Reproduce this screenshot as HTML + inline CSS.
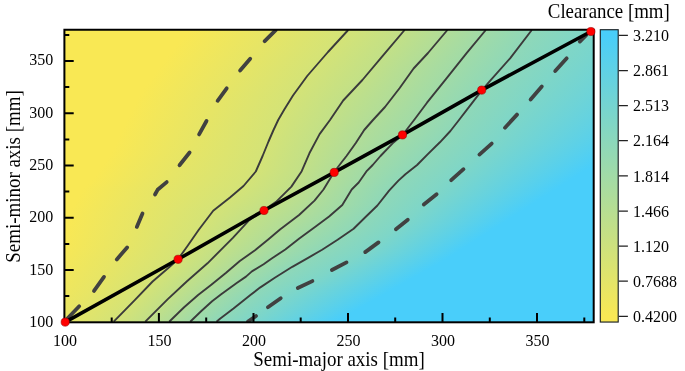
<!DOCTYPE html>
<html><head><meta charset="utf-8"><title>Clearance contour</title>
<style>html,body{margin:0;padding:0;background:#fff}body{width:685px;height:371px;overflow:hidden;font-family:"Liberation Serif",serif}</style></head>
<body>
<svg width="685" height="371" viewBox="0 0 685 371" style="display:block">
<defs><linearGradient id="g0" gradientUnits="userSpaceOnUse" x1="-200" x2="1000" y1="0" y2="0"><stop offset="0.3253" stop-color="#f9e854"/><stop offset="0.3971" stop-color="#e6e566"/><stop offset="0.4576" stop-color="#d4e377"/><stop offset="0.5045" stop-color="#c2e087"/><stop offset="0.5402" stop-color="#b1dd98"/><stop offset="0.5722" stop-color="#a1dba7"/><stop offset="0.6105" stop-color="#8fd8b8"/><stop offset="0.6613" stop-color="#7ed6c8"/><stop offset="0.8396" stop-color="#49cefa"/></linearGradient><linearGradient id="g1" gradientUnits="userSpaceOnUse" x1="-200" x2="1000" y1="0" y2="0"><stop offset="0.3239" stop-color="#f9e854"/><stop offset="0.3954" stop-color="#e6e566"/><stop offset="0.4561" stop-color="#d4e377"/><stop offset="0.5031" stop-color="#c2e087"/><stop offset="0.5388" stop-color="#b1dd98"/><stop offset="0.5708" stop-color="#a1dba7"/><stop offset="0.6092" stop-color="#8fd8b8"/><stop offset="0.6595" stop-color="#7ed6c8"/><stop offset="0.8370" stop-color="#49cefa"/></linearGradient><linearGradient id="g2" gradientUnits="userSpaceOnUse" x1="-200" x2="1000" y1="0" y2="0"><stop offset="0.3224" stop-color="#f9e854"/><stop offset="0.3938" stop-color="#e6e566"/><stop offset="0.4545" stop-color="#d4e377"/><stop offset="0.5017" stop-color="#c2e087"/><stop offset="0.5374" stop-color="#b1dd98"/><stop offset="0.5694" stop-color="#a1dba7"/><stop offset="0.6079" stop-color="#8fd8b8"/><stop offset="0.6576" stop-color="#7ed6c8"/><stop offset="0.8344" stop-color="#49cefa"/></linearGradient><linearGradient id="g3" gradientUnits="userSpaceOnUse" x1="-200" x2="1000" y1="0" y2="0"><stop offset="0.3209" stop-color="#f9e854"/><stop offset="0.3922" stop-color="#e6e566"/><stop offset="0.4530" stop-color="#d4e377"/><stop offset="0.5003" stop-color="#c2e087"/><stop offset="0.5360" stop-color="#b1dd98"/><stop offset="0.5681" stop-color="#a1dba7"/><stop offset="0.6066" stop-color="#8fd8b8"/><stop offset="0.6554" stop-color="#7ed6c8"/><stop offset="0.8318" stop-color="#49cefa"/></linearGradient><linearGradient id="g4" gradientUnits="userSpaceOnUse" x1="-200" x2="1000" y1="0" y2="0"><stop offset="0.3194" stop-color="#f9e854"/><stop offset="0.3906" stop-color="#e6e566"/><stop offset="0.4515" stop-color="#d4e377"/><stop offset="0.4989" stop-color="#c2e087"/><stop offset="0.5346" stop-color="#b1dd98"/><stop offset="0.5667" stop-color="#a1dba7"/><stop offset="0.6054" stop-color="#8fd8b8"/><stop offset="0.6537" stop-color="#7ed6c8"/><stop offset="0.8292" stop-color="#49cefa"/></linearGradient><linearGradient id="g5" gradientUnits="userSpaceOnUse" x1="-200" x2="1000" y1="0" y2="0"><stop offset="0.3179" stop-color="#f9e854"/><stop offset="0.3890" stop-color="#e6e566"/><stop offset="0.4499" stop-color="#d4e377"/><stop offset="0.4975" stop-color="#c2e087"/><stop offset="0.5332" stop-color="#b1dd98"/><stop offset="0.5653" stop-color="#a1dba7"/><stop offset="0.6041" stop-color="#8fd8b8"/><stop offset="0.6520" stop-color="#7ed6c8"/><stop offset="0.8266" stop-color="#49cefa"/></linearGradient><linearGradient id="g6" gradientUnits="userSpaceOnUse" x1="-200" x2="1000" y1="0" y2="0"><stop offset="0.3164" stop-color="#f9e854"/><stop offset="0.3874" stop-color="#e6e566"/><stop offset="0.4484" stop-color="#d4e377"/><stop offset="0.4961" stop-color="#c2e087"/><stop offset="0.5318" stop-color="#b1dd98"/><stop offset="0.5639" stop-color="#a1dba7"/><stop offset="0.6028" stop-color="#8fd8b8"/><stop offset="0.6503" stop-color="#7ed6c8"/><stop offset="0.8239" stop-color="#49cefa"/></linearGradient><linearGradient id="g7" gradientUnits="userSpaceOnUse" x1="-200" x2="1000" y1="0" y2="0"><stop offset="0.3151" stop-color="#f9e854"/><stop offset="0.3860" stop-color="#e6e566"/><stop offset="0.4469" stop-color="#d4e377"/><stop offset="0.4947" stop-color="#c2e087"/><stop offset="0.5304" stop-color="#b1dd98"/><stop offset="0.5625" stop-color="#a1dba7"/><stop offset="0.6015" stop-color="#8fd8b8"/><stop offset="0.6489" stop-color="#7ed6c8"/><stop offset="0.8213" stop-color="#49cefa"/></linearGradient><linearGradient id="g8" gradientUnits="userSpaceOnUse" x1="-200" x2="1000" y1="0" y2="0"><stop offset="0.3138" stop-color="#f9e854"/><stop offset="0.3846" stop-color="#e6e566"/><stop offset="0.4454" stop-color="#d4e377"/><stop offset="0.4933" stop-color="#c2e087"/><stop offset="0.5290" stop-color="#b1dd98"/><stop offset="0.5612" stop-color="#a1dba7"/><stop offset="0.6002" stop-color="#8fd8b8"/><stop offset="0.6476" stop-color="#7ed6c8"/><stop offset="0.8187" stop-color="#49cefa"/></linearGradient><linearGradient id="g9" gradientUnits="userSpaceOnUse" x1="-200" x2="1000" y1="0" y2="0"><stop offset="0.3126" stop-color="#f9e854"/><stop offset="0.3832" stop-color="#e6e566"/><stop offset="0.4438" stop-color="#d4e377"/><stop offset="0.4919" stop-color="#c2e087"/><stop offset="0.5276" stop-color="#b1dd98"/><stop offset="0.5598" stop-color="#a1dba7"/><stop offset="0.5990" stop-color="#8fd8b8"/><stop offset="0.6463" stop-color="#7ed6c8"/><stop offset="0.8161" stop-color="#49cefa"/></linearGradient><linearGradient id="g10" gradientUnits="userSpaceOnUse" x1="-200" x2="1000" y1="0" y2="0"><stop offset="0.3113" stop-color="#f9e854"/><stop offset="0.3819" stop-color="#e6e566"/><stop offset="0.4423" stop-color="#d4e377"/><stop offset="0.4905" stop-color="#c2e087"/><stop offset="0.5261" stop-color="#b1dd98"/><stop offset="0.5584" stop-color="#a1dba7"/><stop offset="0.5977" stop-color="#8fd8b8"/><stop offset="0.6450" stop-color="#7ed6c8"/><stop offset="0.8135" stop-color="#49cefa"/></linearGradient><linearGradient id="g11" gradientUnits="userSpaceOnUse" x1="-200" x2="1000" y1="0" y2="0"><stop offset="0.3100" stop-color="#f9e854"/><stop offset="0.3805" stop-color="#e6e566"/><stop offset="0.4408" stop-color="#d4e377"/><stop offset="0.4891" stop-color="#c2e087"/><stop offset="0.5247" stop-color="#b1dd98"/><stop offset="0.5570" stop-color="#a1dba7"/><stop offset="0.5964" stop-color="#8fd8b8"/><stop offset="0.6437" stop-color="#7ed6c8"/><stop offset="0.8109" stop-color="#49cefa"/></linearGradient><linearGradient id="g12" gradientUnits="userSpaceOnUse" x1="-200" x2="1000" y1="0" y2="0"><stop offset="0.3088" stop-color="#f9e854"/><stop offset="0.3791" stop-color="#e6e566"/><stop offset="0.4393" stop-color="#d4e377"/><stop offset="0.4876" stop-color="#c2e087"/><stop offset="0.5233" stop-color="#b1dd98"/><stop offset="0.5556" stop-color="#a1dba7"/><stop offset="0.5951" stop-color="#8fd8b8"/><stop offset="0.6424" stop-color="#7ed6c8"/><stop offset="0.8082" stop-color="#49cefa"/></linearGradient><linearGradient id="g13" gradientUnits="userSpaceOnUse" x1="-200" x2="1000" y1="0" y2="0"><stop offset="0.3075" stop-color="#f9e854"/><stop offset="0.3777" stop-color="#e6e566"/><stop offset="0.4378" stop-color="#d4e377"/><stop offset="0.4862" stop-color="#c2e087"/><stop offset="0.5218" stop-color="#b1dd98"/><stop offset="0.5543" stop-color="#a1dba7"/><stop offset="0.5939" stop-color="#8fd8b8"/><stop offset="0.6411" stop-color="#7ed6c8"/><stop offset="0.8056" stop-color="#49cefa"/></linearGradient><linearGradient id="g14" gradientUnits="userSpaceOnUse" x1="-200" x2="1000" y1="0" y2="0"><stop offset="0.3062" stop-color="#f9e854"/><stop offset="0.3763" stop-color="#e6e566"/><stop offset="0.4364" stop-color="#d4e377"/><stop offset="0.4848" stop-color="#c2e087"/><stop offset="0.5202" stop-color="#b1dd98"/><stop offset="0.5530" stop-color="#a1dba7"/><stop offset="0.5926" stop-color="#8fd8b8"/><stop offset="0.6398" stop-color="#7ed6c8"/><stop offset="0.8030" stop-color="#49cefa"/></linearGradient><linearGradient id="g15" gradientUnits="userSpaceOnUse" x1="-200" x2="1000" y1="0" y2="0"><stop offset="0.3050" stop-color="#f9e854"/><stop offset="0.3750" stop-color="#e6e566"/><stop offset="0.4349" stop-color="#d4e377"/><stop offset="0.4834" stop-color="#c2e087"/><stop offset="0.5187" stop-color="#b1dd98"/><stop offset="0.5516" stop-color="#a1dba7"/><stop offset="0.5912" stop-color="#8fd8b8"/><stop offset="0.6384" stop-color="#7ed6c8"/><stop offset="0.8004" stop-color="#49cefa"/></linearGradient><linearGradient id="g16" gradientUnits="userSpaceOnUse" x1="-200" x2="1000" y1="0" y2="0"><stop offset="0.3036" stop-color="#f9e854"/><stop offset="0.3735" stop-color="#e6e566"/><stop offset="0.4335" stop-color="#d4e377"/><stop offset="0.4820" stop-color="#c2e087"/><stop offset="0.5171" stop-color="#b1dd98"/><stop offset="0.5503" stop-color="#a1dba7"/><stop offset="0.5897" stop-color="#8fd8b8"/><stop offset="0.6369" stop-color="#7ed6c8"/><stop offset="0.7978" stop-color="#49cefa"/></linearGradient><linearGradient id="g17" gradientUnits="userSpaceOnUse" x1="-200" x2="1000" y1="0" y2="0"><stop offset="0.3023" stop-color="#f9e854"/><stop offset="0.3721" stop-color="#e6e566"/><stop offset="0.4321" stop-color="#d4e377"/><stop offset="0.4806" stop-color="#c2e087"/><stop offset="0.5156" stop-color="#b1dd98"/><stop offset="0.5490" stop-color="#a1dba7"/><stop offset="0.5883" stop-color="#8fd8b8"/><stop offset="0.6354" stop-color="#7ed6c8"/><stop offset="0.7951" stop-color="#49cefa"/></linearGradient><linearGradient id="g18" gradientUnits="userSpaceOnUse" x1="-200" x2="1000" y1="0" y2="0"><stop offset="0.3010" stop-color="#f9e854"/><stop offset="0.3707" stop-color="#e6e566"/><stop offset="0.4306" stop-color="#d4e377"/><stop offset="0.4792" stop-color="#c2e087"/><stop offset="0.5140" stop-color="#b1dd98"/><stop offset="0.5476" stop-color="#a1dba7"/><stop offset="0.5868" stop-color="#8fd8b8"/><stop offset="0.6339" stop-color="#7ed6c8"/><stop offset="0.7925" stop-color="#49cefa"/></linearGradient><linearGradient id="g19" gradientUnits="userSpaceOnUse" x1="-200" x2="1000" y1="0" y2="0"><stop offset="0.2997" stop-color="#f9e854"/><stop offset="0.3692" stop-color="#e6e566"/><stop offset="0.4292" stop-color="#d4e377"/><stop offset="0.4778" stop-color="#c2e087"/><stop offset="0.5125" stop-color="#b1dd98"/><stop offset="0.5463" stop-color="#a1dba7"/><stop offset="0.5853" stop-color="#8fd8b8"/><stop offset="0.6324" stop-color="#7ed6c8"/><stop offset="0.7899" stop-color="#49cefa"/></linearGradient><linearGradient id="g20" gradientUnits="userSpaceOnUse" x1="-200" x2="1000" y1="0" y2="0"><stop offset="0.2984" stop-color="#f9e854"/><stop offset="0.3678" stop-color="#e6e566"/><stop offset="0.4277" stop-color="#d4e377"/><stop offset="0.4764" stop-color="#c2e087"/><stop offset="0.5110" stop-color="#b1dd98"/><stop offset="0.5450" stop-color="#a1dba7"/><stop offset="0.5838" stop-color="#8fd8b8"/><stop offset="0.6309" stop-color="#7ed6c8"/><stop offset="0.7873" stop-color="#49cefa"/></linearGradient><linearGradient id="g21" gradientUnits="userSpaceOnUse" x1="-200" x2="1000" y1="0" y2="0"><stop offset="0.2971" stop-color="#f9e854"/><stop offset="0.3664" stop-color="#e6e566"/><stop offset="0.4263" stop-color="#d4e377"/><stop offset="0.4750" stop-color="#c2e087"/><stop offset="0.5098" stop-color="#b1dd98"/><stop offset="0.5436" stop-color="#a1dba7"/><stop offset="0.5823" stop-color="#8fd8b8"/><stop offset="0.6294" stop-color="#7ed6c8"/><stop offset="0.7847" stop-color="#49cefa"/></linearGradient><linearGradient id="g22" gradientUnits="userSpaceOnUse" x1="-200" x2="1000" y1="0" y2="0"><stop offset="0.2960" stop-color="#f9e854"/><stop offset="0.3652" stop-color="#e6e566"/><stop offset="0.4248" stop-color="#d4e377"/><stop offset="0.4736" stop-color="#c2e087"/><stop offset="0.5087" stop-color="#b1dd98"/><stop offset="0.5423" stop-color="#a1dba7"/><stop offset="0.5808" stop-color="#8fd8b8"/><stop offset="0.6279" stop-color="#7ed6c8"/><stop offset="0.7821" stop-color="#49cefa"/></linearGradient><linearGradient id="g23" gradientUnits="userSpaceOnUse" x1="-200" x2="1000" y1="0" y2="0"><stop offset="0.2948" stop-color="#f9e854"/><stop offset="0.3639" stop-color="#e6e566"/><stop offset="0.4234" stop-color="#d4e377"/><stop offset="0.4722" stop-color="#c2e087"/><stop offset="0.5075" stop-color="#b1dd98"/><stop offset="0.5410" stop-color="#a1dba7"/><stop offset="0.5793" stop-color="#8fd8b8"/><stop offset="0.6265" stop-color="#7ed6c8"/><stop offset="0.7794" stop-color="#49cefa"/></linearGradient><linearGradient id="g24" gradientUnits="userSpaceOnUse" x1="-200" x2="1000" y1="0" y2="0"><stop offset="0.2937" stop-color="#f9e854"/><stop offset="0.3627" stop-color="#e6e566"/><stop offset="0.4221" stop-color="#d4e377"/><stop offset="0.4708" stop-color="#c2e087"/><stop offset="0.5063" stop-color="#b1dd98"/><stop offset="0.5396" stop-color="#a1dba7"/><stop offset="0.5779" stop-color="#8fd8b8"/><stop offset="0.6250" stop-color="#7ed6c8"/><stop offset="0.7768" stop-color="#49cefa"/></linearGradient><linearGradient id="g25" gradientUnits="userSpaceOnUse" x1="-200" x2="1000" y1="0" y2="0"><stop offset="0.2926" stop-color="#f9e854"/><stop offset="0.3614" stop-color="#e6e566"/><stop offset="0.4208" stop-color="#d4e377"/><stop offset="0.4694" stop-color="#c2e087"/><stop offset="0.5051" stop-color="#b1dd98"/><stop offset="0.5383" stop-color="#a1dba7"/><stop offset="0.5764" stop-color="#8fd8b8"/><stop offset="0.6236" stop-color="#7ed6c8"/><stop offset="0.7742" stop-color="#49cefa"/></linearGradient><linearGradient id="g26" gradientUnits="userSpaceOnUse" x1="-200" x2="1000" y1="0" y2="0"><stop offset="0.2914" stop-color="#f9e854"/><stop offset="0.3602" stop-color="#e6e566"/><stop offset="0.4196" stop-color="#d4e377"/><stop offset="0.4679" stop-color="#c2e087"/><stop offset="0.5039" stop-color="#b1dd98"/><stop offset="0.5370" stop-color="#a1dba7"/><stop offset="0.5749" stop-color="#8fd8b8"/><stop offset="0.6221" stop-color="#7ed6c8"/><stop offset="0.7716" stop-color="#49cefa"/></linearGradient><linearGradient id="g27" gradientUnits="userSpaceOnUse" x1="-200" x2="1000" y1="0" y2="0"><stop offset="0.2903" stop-color="#f9e854"/><stop offset="0.3589" stop-color="#e6e566"/><stop offset="0.4184" stop-color="#d4e377"/><stop offset="0.4663" stop-color="#c2e087"/><stop offset="0.5027" stop-color="#b1dd98"/><stop offset="0.5356" stop-color="#a1dba7"/><stop offset="0.5734" stop-color="#8fd8b8"/><stop offset="0.6206" stop-color="#7ed6c8"/><stop offset="0.7690" stop-color="#49cefa"/></linearGradient><linearGradient id="g28" gradientUnits="userSpaceOnUse" x1="-200" x2="1000" y1="0" y2="0"><stop offset="0.2891" stop-color="#f9e854"/><stop offset="0.3577" stop-color="#e6e566"/><stop offset="0.4172" stop-color="#d4e377"/><stop offset="0.4648" stop-color="#c2e087"/><stop offset="0.5015" stop-color="#b1dd98"/><stop offset="0.5343" stop-color="#a1dba7"/><stop offset="0.5720" stop-color="#8fd8b8"/><stop offset="0.6192" stop-color="#7ed6c8"/><stop offset="0.7664" stop-color="#49cefa"/></linearGradient><linearGradient id="g29" gradientUnits="userSpaceOnUse" x1="-200" x2="1000" y1="0" y2="0"><stop offset="0.2880" stop-color="#f9e854"/><stop offset="0.3564" stop-color="#e6e566"/><stop offset="0.4160" stop-color="#d4e377"/><stop offset="0.4632" stop-color="#c2e087"/><stop offset="0.5003" stop-color="#b1dd98"/><stop offset="0.5330" stop-color="#a1dba7"/><stop offset="0.5706" stop-color="#8fd8b8"/><stop offset="0.6177" stop-color="#7ed6c8"/><stop offset="0.7637" stop-color="#49cefa"/></linearGradient><linearGradient id="g30" gradientUnits="userSpaceOnUse" x1="-200" x2="1000" y1="0" y2="0"><stop offset="0.2869" stop-color="#f9e854"/><stop offset="0.3552" stop-color="#e6e566"/><stop offset="0.4148" stop-color="#d4e377"/><stop offset="0.4616" stop-color="#c2e087"/><stop offset="0.4991" stop-color="#b1dd98"/><stop offset="0.5316" stop-color="#a1dba7"/><stop offset="0.5691" stop-color="#8fd8b8"/><stop offset="0.6163" stop-color="#7ed6c8"/><stop offset="0.7611" stop-color="#49cefa"/></linearGradient><linearGradient id="g31" gradientUnits="userSpaceOnUse" x1="-200" x2="1000" y1="0" y2="0"><stop offset="0.2858" stop-color="#f9e854"/><stop offset="0.3539" stop-color="#e6e566"/><stop offset="0.4136" stop-color="#d4e377"/><stop offset="0.4601" stop-color="#c2e087"/><stop offset="0.4978" stop-color="#b1dd98"/><stop offset="0.5303" stop-color="#a1dba7"/><stop offset="0.5677" stop-color="#8fd8b8"/><stop offset="0.6149" stop-color="#7ed6c8"/><stop offset="0.7585" stop-color="#49cefa"/></linearGradient><linearGradient id="g32" gradientUnits="userSpaceOnUse" x1="-200" x2="1000" y1="0" y2="0"><stop offset="0.2847" stop-color="#f9e854"/><stop offset="0.3527" stop-color="#e6e566"/><stop offset="0.4124" stop-color="#d4e377"/><stop offset="0.4585" stop-color="#c2e087"/><stop offset="0.4965" stop-color="#b1dd98"/><stop offset="0.5290" stop-color="#a1dba7"/><stop offset="0.5664" stop-color="#8fd8b8"/><stop offset="0.6135" stop-color="#7ed6c8"/><stop offset="0.7559" stop-color="#49cefa"/></linearGradient><linearGradient id="g33" gradientUnits="userSpaceOnUse" x1="-200" x2="1000" y1="0" y2="0"><stop offset="0.2836" stop-color="#f9e854"/><stop offset="0.3515" stop-color="#e6e566"/><stop offset="0.4111" stop-color="#d4e377"/><stop offset="0.4570" stop-color="#c2e087"/><stop offset="0.4952" stop-color="#b1dd98"/><stop offset="0.5276" stop-color="#a1dba7"/><stop offset="0.5652" stop-color="#8fd8b8"/><stop offset="0.6120" stop-color="#7ed6c8"/><stop offset="0.7533" stop-color="#49cefa"/></linearGradient><linearGradient id="g34" gradientUnits="userSpaceOnUse" x1="-200" x2="1000" y1="0" y2="0"><stop offset="0.2825" stop-color="#f9e854"/><stop offset="0.3503" stop-color="#e6e566"/><stop offset="0.4101" stop-color="#d4e377"/><stop offset="0.4554" stop-color="#c2e087"/><stop offset="0.4939" stop-color="#b1dd98"/><stop offset="0.5263" stop-color="#a1dba7"/><stop offset="0.5639" stop-color="#8fd8b8"/><stop offset="0.6106" stop-color="#7ed6c8"/><stop offset="0.7507" stop-color="#49cefa"/></linearGradient><linearGradient id="g35" gradientUnits="userSpaceOnUse" x1="-200" x2="1000" y1="0" y2="0"><stop offset="0.2814" stop-color="#f9e854"/><stop offset="0.3491" stop-color="#e6e566"/><stop offset="0.4090" stop-color="#d4e377"/><stop offset="0.4538" stop-color="#c2e087"/><stop offset="0.4927" stop-color="#b1dd98"/><stop offset="0.5250" stop-color="#a1dba7"/><stop offset="0.5626" stop-color="#8fd8b8"/><stop offset="0.6092" stop-color="#7ed6c8"/><stop offset="0.7480" stop-color="#49cefa"/></linearGradient><linearGradient id="g36" gradientUnits="userSpaceOnUse" x1="-200" x2="1000" y1="0" y2="0"><stop offset="0.2803" stop-color="#f9e854"/><stop offset="0.3479" stop-color="#e6e566"/><stop offset="0.4080" stop-color="#d4e377"/><stop offset="0.4524" stop-color="#c2e087"/><stop offset="0.4914" stop-color="#b1dd98"/><stop offset="0.5236" stop-color="#a1dba7"/><stop offset="0.5613" stop-color="#8fd8b8"/><stop offset="0.6077" stop-color="#7ed6c8"/><stop offset="0.7454" stop-color="#49cefa"/></linearGradient><linearGradient id="g37" gradientUnits="userSpaceOnUse" x1="-200" x2="1000" y1="0" y2="0"><stop offset="0.2795" stop-color="#f9e854"/><stop offset="0.3470" stop-color="#e6e566"/><stop offset="0.4069" stop-color="#d4e377"/><stop offset="0.4513" stop-color="#c2e087"/><stop offset="0.4901" stop-color="#b1dd98"/><stop offset="0.5223" stop-color="#a1dba7"/><stop offset="0.5601" stop-color="#8fd8b8"/><stop offset="0.6062" stop-color="#7ed6c8"/><stop offset="0.7428" stop-color="#49cefa"/></linearGradient><linearGradient id="g38" gradientUnits="userSpaceOnUse" x1="-200" x2="1000" y1="0" y2="0"><stop offset="0.2787" stop-color="#f9e854"/><stop offset="0.3461" stop-color="#e6e566"/><stop offset="0.4059" stop-color="#d4e377"/><stop offset="0.4501" stop-color="#c2e087"/><stop offset="0.4888" stop-color="#b1dd98"/><stop offset="0.5211" stop-color="#a1dba7"/><stop offset="0.5588" stop-color="#8fd8b8"/><stop offset="0.6047" stop-color="#7ed6c8"/><stop offset="0.7402" stop-color="#49cefa"/></linearGradient><linearGradient id="g39" gradientUnits="userSpaceOnUse" x1="-200" x2="1000" y1="0" y2="0"><stop offset="0.2779" stop-color="#f9e854"/><stop offset="0.3452" stop-color="#e6e566"/><stop offset="0.4049" stop-color="#d4e377"/><stop offset="0.4490" stop-color="#c2e087"/><stop offset="0.4875" stop-color="#b1dd98"/><stop offset="0.5198" stop-color="#a1dba7"/><stop offset="0.5575" stop-color="#8fd8b8"/><stop offset="0.6032" stop-color="#7ed6c8"/><stop offset="0.7376" stop-color="#49cefa"/></linearGradient><linearGradient id="g40" gradientUnits="userSpaceOnUse" x1="-200" x2="1000" y1="0" y2="0"><stop offset="0.2771" stop-color="#f9e854"/><stop offset="0.3442" stop-color="#e6e566"/><stop offset="0.4038" stop-color="#d4e377"/><stop offset="0.4479" stop-color="#c2e087"/><stop offset="0.4860" stop-color="#b1dd98"/><stop offset="0.5186" stop-color="#a1dba7"/><stop offset="0.5562" stop-color="#8fd8b8"/><stop offset="0.6017" stop-color="#7ed6c8"/><stop offset="0.7350" stop-color="#49cefa"/></linearGradient><linearGradient id="g41" gradientUnits="userSpaceOnUse" x1="-200" x2="1000" y1="0" y2="0"><stop offset="0.2763" stop-color="#f9e854"/><stop offset="0.3433" stop-color="#e6e566"/><stop offset="0.4029" stop-color="#d4e377"/><stop offset="0.4467" stop-color="#c2e087"/><stop offset="0.4844" stop-color="#b1dd98"/><stop offset="0.5174" stop-color="#a1dba7"/><stop offset="0.5549" stop-color="#8fd8b8"/><stop offset="0.6002" stop-color="#7ed6c8"/><stop offset="0.7323" stop-color="#49cefa"/></linearGradient><linearGradient id="g42" gradientUnits="userSpaceOnUse" x1="-200" x2="1000" y1="0" y2="0"><stop offset="0.2755" stop-color="#f9e854"/><stop offset="0.3424" stop-color="#e6e566"/><stop offset="0.4019" stop-color="#d4e377"/><stop offset="0.4456" stop-color="#c2e087"/><stop offset="0.4829" stop-color="#b1dd98"/><stop offset="0.5161" stop-color="#a1dba7"/><stop offset="0.5537" stop-color="#8fd8b8"/><stop offset="0.5987" stop-color="#7ed6c8"/><stop offset="0.7297" stop-color="#49cefa"/></linearGradient><linearGradient id="g43" gradientUnits="userSpaceOnUse" x1="-200" x2="1000" y1="0" y2="0"><stop offset="0.2747" stop-color="#f9e854"/><stop offset="0.3415" stop-color="#e6e566"/><stop offset="0.4009" stop-color="#d4e377"/><stop offset="0.4445" stop-color="#c2e087"/><stop offset="0.4813" stop-color="#b1dd98"/><stop offset="0.5149" stop-color="#a1dba7"/><stop offset="0.5524" stop-color="#8fd8b8"/><stop offset="0.5972" stop-color="#7ed6c8"/><stop offset="0.7271" stop-color="#49cefa"/></linearGradient><linearGradient id="g44" gradientUnits="userSpaceOnUse" x1="-200" x2="1000" y1="0" y2="0"><stop offset="0.2739" stop-color="#f9e854"/><stop offset="0.3406" stop-color="#e6e566"/><stop offset="0.4000" stop-color="#d4e377"/><stop offset="0.4434" stop-color="#c2e087"/><stop offset="0.4798" stop-color="#b1dd98"/><stop offset="0.5136" stop-color="#a1dba7"/><stop offset="0.5511" stop-color="#8fd8b8"/><stop offset="0.5957" stop-color="#7ed6c8"/><stop offset="0.7245" stop-color="#49cefa"/></linearGradient><linearGradient id="g45" gradientUnits="userSpaceOnUse" x1="-200" x2="1000" y1="0" y2="0"><stop offset="0.2731" stop-color="#f9e854"/><stop offset="0.3397" stop-color="#e6e566"/><stop offset="0.3990" stop-color="#d4e377"/><stop offset="0.4422" stop-color="#c2e087"/><stop offset="0.4783" stop-color="#b1dd98"/><stop offset="0.5124" stop-color="#a1dba7"/><stop offset="0.5498" stop-color="#8fd8b8"/><stop offset="0.5941" stop-color="#7ed6c8"/><stop offset="0.7219" stop-color="#49cefa"/></linearGradient><linearGradient id="g46" gradientUnits="userSpaceOnUse" x1="-200" x2="1000" y1="0" y2="0"><stop offset="0.2723" stop-color="#f9e854"/><stop offset="0.3387" stop-color="#e6e566"/><stop offset="0.3981" stop-color="#d4e377"/><stop offset="0.4411" stop-color="#c2e087"/><stop offset="0.4768" stop-color="#b1dd98"/><stop offset="0.5111" stop-color="#a1dba7"/><stop offset="0.5485" stop-color="#8fd8b8"/><stop offset="0.5926" stop-color="#7ed6c8"/><stop offset="0.7192" stop-color="#49cefa"/></linearGradient><linearGradient id="g47" gradientUnits="userSpaceOnUse" x1="-200" x2="1000" y1="0" y2="0"><stop offset="0.2715" stop-color="#f9e854"/><stop offset="0.3378" stop-color="#e6e566"/><stop offset="0.3973" stop-color="#d4e377"/><stop offset="0.4398" stop-color="#c2e087"/><stop offset="0.4753" stop-color="#b1dd98"/><stop offset="0.5098" stop-color="#a1dba7"/><stop offset="0.5472" stop-color="#8fd8b8"/><stop offset="0.5911" stop-color="#7ed6c8"/><stop offset="0.7166" stop-color="#49cefa"/></linearGradient><linearGradient id="g48" gradientUnits="userSpaceOnUse" x1="-200" x2="1000" y1="0" y2="0"><stop offset="0.2707" stop-color="#f9e854"/><stop offset="0.3369" stop-color="#e6e566"/><stop offset="0.3965" stop-color="#d4e377"/><stop offset="0.4386" stop-color="#c2e087"/><stop offset="0.4738" stop-color="#b1dd98"/><stop offset="0.5085" stop-color="#a1dba7"/><stop offset="0.5459" stop-color="#8fd8b8"/><stop offset="0.5896" stop-color="#7ed6c8"/><stop offset="0.7140" stop-color="#49cefa"/></linearGradient><linearGradient id="g49" gradientUnits="userSpaceOnUse" x1="-200" x2="1000" y1="0" y2="0"><stop offset="0.2699" stop-color="#f9e854"/><stop offset="0.3360" stop-color="#e6e566"/><stop offset="0.3958" stop-color="#d4e377"/><stop offset="0.4374" stop-color="#c2e087"/><stop offset="0.4724" stop-color="#b1dd98"/><stop offset="0.5072" stop-color="#a1dba7"/><stop offset="0.5446" stop-color="#8fd8b8"/><stop offset="0.5880" stop-color="#7ed6c8"/><stop offset="0.7114" stop-color="#49cefa"/></linearGradient><linearGradient id="g50" gradientUnits="userSpaceOnUse" x1="-200" x2="1000" y1="0" y2="0"><stop offset="0.2691" stop-color="#f9e854"/><stop offset="0.3351" stop-color="#e6e566"/><stop offset="0.3950" stop-color="#d4e377"/><stop offset="0.4361" stop-color="#c2e087"/><stop offset="0.4709" stop-color="#b1dd98"/><stop offset="0.5060" stop-color="#a1dba7"/><stop offset="0.5433" stop-color="#8fd8b8"/><stop offset="0.5866" stop-color="#7ed6c8"/><stop offset="0.7088" stop-color="#49cefa"/></linearGradient><linearGradient id="g51" gradientUnits="userSpaceOnUse" x1="-200" x2="1000" y1="0" y2="0"><stop offset="0.2682" stop-color="#f9e854"/><stop offset="0.3341" stop-color="#e6e566"/><stop offset="0.3942" stop-color="#d4e377"/><stop offset="0.4349" stop-color="#c2e087"/><stop offset="0.4696" stop-color="#b1dd98"/><stop offset="0.5047" stop-color="#a1dba7"/><stop offset="0.5420" stop-color="#8fd8b8"/><stop offset="0.5852" stop-color="#7ed6c8"/><stop offset="0.7062" stop-color="#49cefa"/></linearGradient><linearGradient id="g52" gradientUnits="userSpaceOnUse" x1="-200" x2="1000" y1="0" y2="0"><stop offset="0.2674" stop-color="#f9e854"/><stop offset="0.3332" stop-color="#e6e566"/><stop offset="0.3935" stop-color="#d4e377"/><stop offset="0.4337" stop-color="#c2e087"/><stop offset="0.4686" stop-color="#b1dd98"/><stop offset="0.5034" stop-color="#a1dba7"/><stop offset="0.5405" stop-color="#8fd8b8"/><stop offset="0.5838" stop-color="#7ed6c8"/><stop offset="0.7035" stop-color="#49cefa"/></linearGradient><linearGradient id="g53" gradientUnits="userSpaceOnUse" x1="-200" x2="1000" y1="0" y2="0"><stop offset="0.2667" stop-color="#f9e854"/><stop offset="0.3323" stop-color="#e6e566"/><stop offset="0.3928" stop-color="#d4e377"/><stop offset="0.4326" stop-color="#c2e087"/><stop offset="0.4675" stop-color="#b1dd98"/><stop offset="0.5021" stop-color="#a1dba7"/><stop offset="0.5389" stop-color="#8fd8b8"/><stop offset="0.5824" stop-color="#7ed6c8"/><stop offset="0.7009" stop-color="#49cefa"/></linearGradient><linearGradient id="g54" gradientUnits="userSpaceOnUse" x1="-200" x2="1000" y1="0" y2="0"><stop offset="0.2659" stop-color="#f9e854"/><stop offset="0.3314" stop-color="#e6e566"/><stop offset="0.3920" stop-color="#d4e377"/><stop offset="0.4317" stop-color="#c2e087"/><stop offset="0.4664" stop-color="#b1dd98"/><stop offset="0.5001" stop-color="#a1dba7"/><stop offset="0.5374" stop-color="#8fd8b8"/><stop offset="0.5810" stop-color="#7ed6c8"/><stop offset="0.6983" stop-color="#49cefa"/></linearGradient><linearGradient id="g55" gradientUnits="userSpaceOnUse" x1="-200" x2="1000" y1="0" y2="0"><stop offset="0.2651" stop-color="#f9e854"/><stop offset="0.3306" stop-color="#e6e566"/><stop offset="0.3913" stop-color="#d4e377"/><stop offset="0.4308" stop-color="#c2e087"/><stop offset="0.4653" stop-color="#b1dd98"/><stop offset="0.4981" stop-color="#a1dba7"/><stop offset="0.5358" stop-color="#8fd8b8"/><stop offset="0.5796" stop-color="#7ed6c8"/><stop offset="0.6957" stop-color="#49cefa"/></linearGradient><linearGradient id="g56" gradientUnits="userSpaceOnUse" x1="-200" x2="1000" y1="0" y2="0"><stop offset="0.2644" stop-color="#f9e854"/><stop offset="0.3297" stop-color="#e6e566"/><stop offset="0.3906" stop-color="#d4e377"/><stop offset="0.4299" stop-color="#c2e087"/><stop offset="0.4642" stop-color="#b1dd98"/><stop offset="0.4961" stop-color="#a1dba7"/><stop offset="0.5343" stop-color="#8fd8b8"/><stop offset="0.5782" stop-color="#7ed6c8"/><stop offset="0.6931" stop-color="#49cefa"/></linearGradient><linearGradient id="g57" gradientUnits="userSpaceOnUse" x1="-200" x2="1000" y1="0" y2="0"><stop offset="0.2636" stop-color="#f9e854"/><stop offset="0.3288" stop-color="#e6e566"/><stop offset="0.3899" stop-color="#d4e377"/><stop offset="0.4291" stop-color="#c2e087"/><stop offset="0.4632" stop-color="#b1dd98"/><stop offset="0.4941" stop-color="#a1dba7"/><stop offset="0.5327" stop-color="#8fd8b8"/><stop offset="0.5768" stop-color="#7ed6c8"/><stop offset="0.6905" stop-color="#49cefa"/></linearGradient><linearGradient id="g58" gradientUnits="userSpaceOnUse" x1="-200" x2="1000" y1="0" y2="0"><stop offset="0.2628" stop-color="#f9e854"/><stop offset="0.3279" stop-color="#e6e566"/><stop offset="0.3892" stop-color="#d4e377"/><stop offset="0.4282" stop-color="#c2e087"/><stop offset="0.4620" stop-color="#b1dd98"/><stop offset="0.4925" stop-color="#a1dba7"/><stop offset="0.5309" stop-color="#8fd8b8"/><stop offset="0.5751" stop-color="#7ed6c8"/><stop offset="0.6878" stop-color="#49cefa"/></linearGradient><linearGradient id="g59" gradientUnits="userSpaceOnUse" x1="-200" x2="1000" y1="0" y2="0"><stop offset="0.2621" stop-color="#f9e854"/><stop offset="0.3271" stop-color="#e6e566"/><stop offset="0.3886" stop-color="#d4e377"/><stop offset="0.4273" stop-color="#c2e087"/><stop offset="0.4608" stop-color="#b1dd98"/><stop offset="0.4909" stop-color="#a1dba7"/><stop offset="0.5292" stop-color="#8fd8b8"/><stop offset="0.5732" stop-color="#7ed6c8"/><stop offset="0.6852" stop-color="#49cefa"/></linearGradient><linearGradient id="g60" gradientUnits="userSpaceOnUse" x1="-200" x2="1000" y1="0" y2="0"><stop offset="0.2613" stop-color="#f9e854"/><stop offset="0.3262" stop-color="#e6e566"/><stop offset="0.3879" stop-color="#d4e377"/><stop offset="0.4264" stop-color="#c2e087"/><stop offset="0.4596" stop-color="#b1dd98"/><stop offset="0.4893" stop-color="#a1dba7"/><stop offset="0.5275" stop-color="#8fd8b8"/><stop offset="0.5714" stop-color="#7ed6c8"/><stop offset="0.6826" stop-color="#49cefa"/></linearGradient><linearGradient id="g61" gradientUnits="userSpaceOnUse" x1="-200" x2="1000" y1="0" y2="0"><stop offset="0.2606" stop-color="#f9e854"/><stop offset="0.3253" stop-color="#e6e566"/><stop offset="0.3872" stop-color="#d4e377"/><stop offset="0.4255" stop-color="#c2e087"/><stop offset="0.4584" stop-color="#b1dd98"/><stop offset="0.4877" stop-color="#a1dba7"/><stop offset="0.5258" stop-color="#8fd8b8"/><stop offset="0.5695" stop-color="#7ed6c8"/><stop offset="0.6800" stop-color="#49cefa"/></linearGradient><linearGradient id="g62" gradientUnits="userSpaceOnUse" x1="-200" x2="1000" y1="0" y2="0"><stop offset="0.2597" stop-color="#f9e854"/><stop offset="0.3243" stop-color="#e6e566"/><stop offset="0.3865" stop-color="#d4e377"/><stop offset="0.4246" stop-color="#c2e087"/><stop offset="0.4572" stop-color="#b1dd98"/><stop offset="0.4861" stop-color="#a1dba7"/><stop offset="0.5241" stop-color="#8fd8b8"/><stop offset="0.5677" stop-color="#7ed6c8"/><stop offset="0.6774" stop-color="#49cefa"/></linearGradient><linearGradient id="g63" gradientUnits="userSpaceOnUse" x1="-200" x2="1000" y1="0" y2="0"><stop offset="0.2585" stop-color="#f9e854"/><stop offset="0.3230" stop-color="#e6e566"/><stop offset="0.3858" stop-color="#d4e377"/><stop offset="0.4239" stop-color="#c2e087"/><stop offset="0.4560" stop-color="#b1dd98"/><stop offset="0.4845" stop-color="#a1dba7"/><stop offset="0.5224" stop-color="#8fd8b8"/><stop offset="0.5658" stop-color="#7ed6c8"/><stop offset="0.6748" stop-color="#49cefa"/></linearGradient><linearGradient id="g64" gradientUnits="userSpaceOnUse" x1="-200" x2="1000" y1="0" y2="0"><stop offset="0.2573" stop-color="#f9e854"/><stop offset="0.3217" stop-color="#e6e566"/><stop offset="0.3851" stop-color="#d4e377"/><stop offset="0.4232" stop-color="#c2e087"/><stop offset="0.4548" stop-color="#b1dd98"/><stop offset="0.4830" stop-color="#a1dba7"/><stop offset="0.5208" stop-color="#8fd8b8"/><stop offset="0.5640" stop-color="#7ed6c8"/><stop offset="0.6721" stop-color="#49cefa"/></linearGradient><linearGradient id="g65" gradientUnits="userSpaceOnUse" x1="-200" x2="1000" y1="0" y2="0"><stop offset="0.2561" stop-color="#f9e854"/><stop offset="0.3204" stop-color="#e6e566"/><stop offset="0.3844" stop-color="#d4e377"/><stop offset="0.4225" stop-color="#c2e087"/><stop offset="0.4535" stop-color="#b1dd98"/><stop offset="0.4816" stop-color="#a1dba7"/><stop offset="0.5192" stop-color="#8fd8b8"/><stop offset="0.5622" stop-color="#7ed6c8"/><stop offset="0.6695" stop-color="#49cefa"/></linearGradient><linearGradient id="g66" gradientUnits="userSpaceOnUse" x1="-200" x2="1000" y1="0" y2="0"><stop offset="0.2549" stop-color="#f9e854"/><stop offset="0.3191" stop-color="#e6e566"/><stop offset="0.3837" stop-color="#d4e377"/><stop offset="0.4217" stop-color="#c2e087"/><stop offset="0.4522" stop-color="#b1dd98"/><stop offset="0.4801" stop-color="#a1dba7"/><stop offset="0.5175" stop-color="#8fd8b8"/><stop offset="0.5604" stop-color="#7ed6c8"/><stop offset="0.6669" stop-color="#49cefa"/></linearGradient><linearGradient id="g67" gradientUnits="userSpaceOnUse" x1="-200" x2="1000" y1="0" y2="0"><stop offset="0.2537" stop-color="#f9e854"/><stop offset="0.3178" stop-color="#e6e566"/><stop offset="0.3829" stop-color="#d4e377"/><stop offset="0.4210" stop-color="#c2e087"/><stop offset="0.4509" stop-color="#b1dd98"/><stop offset="0.4787" stop-color="#a1dba7"/><stop offset="0.5159" stop-color="#8fd8b8"/><stop offset="0.5585" stop-color="#7ed6c8"/><stop offset="0.6643" stop-color="#49cefa"/></linearGradient><linearGradient id="g68" gradientUnits="userSpaceOnUse" x1="-200" x2="1000" y1="0" y2="0"><stop offset="0.2525" stop-color="#f9e854"/><stop offset="0.3164" stop-color="#e6e566"/><stop offset="0.3822" stop-color="#d4e377"/><stop offset="0.4203" stop-color="#c2e087"/><stop offset="0.4496" stop-color="#b1dd98"/><stop offset="0.4773" stop-color="#a1dba7"/><stop offset="0.5142" stop-color="#8fd8b8"/><stop offset="0.5567" stop-color="#7ed6c8"/><stop offset="0.6617" stop-color="#49cefa"/></linearGradient><linearGradient id="g69" gradientUnits="userSpaceOnUse" x1="-200" x2="1000" y1="0" y2="0"><stop offset="0.2513" stop-color="#f9e854"/><stop offset="0.3152" stop-color="#e6e566"/><stop offset="0.3815" stop-color="#d4e377"/><stop offset="0.4196" stop-color="#c2e087"/><stop offset="0.4483" stop-color="#b1dd98"/><stop offset="0.4756" stop-color="#a1dba7"/><stop offset="0.5122" stop-color="#8fd8b8"/><stop offset="0.5549" stop-color="#7ed6c8"/><stop offset="0.6591" stop-color="#49cefa"/></linearGradient><linearGradient id="g70" gradientUnits="userSpaceOnUse" x1="-200" x2="1000" y1="0" y2="0"><stop offset="0.2502" stop-color="#f9e854"/><stop offset="0.3139" stop-color="#e6e566"/><stop offset="0.3807" stop-color="#d4e377"/><stop offset="0.4189" stop-color="#c2e087"/><stop offset="0.4471" stop-color="#b1dd98"/><stop offset="0.4739" stop-color="#a1dba7"/><stop offset="0.5101" stop-color="#8fd8b8"/><stop offset="0.5531" stop-color="#7ed6c8"/><stop offset="0.6564" stop-color="#49cefa"/></linearGradient><linearGradient id="g71" gradientUnits="userSpaceOnUse" x1="-200" x2="1000" y1="0" y2="0"><stop offset="0.2490" stop-color="#f9e854"/><stop offset="0.3126" stop-color="#e6e566"/><stop offset="0.3800" stop-color="#d4e377"/><stop offset="0.4182" stop-color="#c2e087"/><stop offset="0.4458" stop-color="#b1dd98"/><stop offset="0.4723" stop-color="#a1dba7"/><stop offset="0.5080" stop-color="#8fd8b8"/><stop offset="0.5512" stop-color="#7ed6c8"/><stop offset="0.6538" stop-color="#49cefa"/></linearGradient><linearGradient id="g72" gradientUnits="userSpaceOnUse" x1="-200" x2="1000" y1="0" y2="0"><stop offset="0.2479" stop-color="#f9e854"/><stop offset="0.3114" stop-color="#e6e566"/><stop offset="0.3788" stop-color="#d4e377"/><stop offset="0.4171" stop-color="#c2e087"/><stop offset="0.4446" stop-color="#b1dd98"/><stop offset="0.4711" stop-color="#a1dba7"/><stop offset="0.5059" stop-color="#8fd8b8"/><stop offset="0.5494" stop-color="#7ed6c8"/><stop offset="0.6512" stop-color="#49cefa"/></linearGradient><linearGradient id="g73" gradientUnits="userSpaceOnUse" x1="-200" x2="1000" y1="0" y2="0"><stop offset="0.2467" stop-color="#f9e854"/><stop offset="0.3101" stop-color="#e6e566"/><stop offset="0.3774" stop-color="#d4e377"/><stop offset="0.4160" stop-color="#c2e087"/><stop offset="0.4436" stop-color="#b1dd98"/><stop offset="0.4700" stop-color="#a1dba7"/><stop offset="0.5039" stop-color="#8fd8b8"/><stop offset="0.5475" stop-color="#7ed6c8"/><stop offset="0.6486" stop-color="#49cefa"/></linearGradient><linearGradient id="g74" gradientUnits="userSpaceOnUse" x1="-200" x2="1000" y1="0" y2="0"><stop offset="0.2455" stop-color="#f9e854"/><stop offset="0.3088" stop-color="#e6e566"/><stop offset="0.3759" stop-color="#d4e377"/><stop offset="0.4149" stop-color="#c2e087"/><stop offset="0.4426" stop-color="#b1dd98"/><stop offset="0.4688" stop-color="#a1dba7"/><stop offset="0.5020" stop-color="#8fd8b8"/><stop offset="0.5456" stop-color="#7ed6c8"/><stop offset="0.6460" stop-color="#49cefa"/></linearGradient><linearGradient id="g75" gradientUnits="userSpaceOnUse" x1="-200" x2="1000" y1="0" y2="0"><stop offset="0.2444" stop-color="#f9e854"/><stop offset="0.3076" stop-color="#e6e566"/><stop offset="0.3745" stop-color="#d4e377"/><stop offset="0.4137" stop-color="#c2e087"/><stop offset="0.4416" stop-color="#b1dd98"/><stop offset="0.4676" stop-color="#a1dba7"/><stop offset="0.5001" stop-color="#8fd8b8"/><stop offset="0.5438" stop-color="#7ed6c8"/><stop offset="0.6434" stop-color="#49cefa"/></linearGradient><linearGradient id="g76" gradientUnits="userSpaceOnUse" x1="-200" x2="1000" y1="0" y2="0"><stop offset="0.2432" stop-color="#f9e854"/><stop offset="0.3063" stop-color="#e6e566"/><stop offset="0.3731" stop-color="#d4e377"/><stop offset="0.4126" stop-color="#c2e087"/><stop offset="0.4406" stop-color="#b1dd98"/><stop offset="0.4665" stop-color="#a1dba7"/><stop offset="0.4984" stop-color="#8fd8b8"/><stop offset="0.5420" stop-color="#7ed6c8"/><stop offset="0.6408" stop-color="#49cefa"/></linearGradient><linearGradient id="g77" gradientUnits="userSpaceOnUse" x1="-200" x2="1000" y1="0" y2="0"><stop offset="0.2418" stop-color="#f9e854"/><stop offset="0.3047" stop-color="#e6e566"/><stop offset="0.3717" stop-color="#d4e377"/><stop offset="0.4115" stop-color="#c2e087"/><stop offset="0.4396" stop-color="#b1dd98"/><stop offset="0.4652" stop-color="#a1dba7"/><stop offset="0.4968" stop-color="#8fd8b8"/><stop offset="0.5402" stop-color="#7ed6c8"/><stop offset="0.6381" stop-color="#49cefa"/></linearGradient><linearGradient id="g78" gradientUnits="userSpaceOnUse" x1="-200" x2="1000" y1="0" y2="0"><stop offset="0.2399" stop-color="#f9e854"/><stop offset="0.3027" stop-color="#e6e566"/><stop offset="0.3703" stop-color="#d4e377"/><stop offset="0.4104" stop-color="#c2e087"/><stop offset="0.4385" stop-color="#b1dd98"/><stop offset="0.4635" stop-color="#a1dba7"/><stop offset="0.4953" stop-color="#8fd8b8"/><stop offset="0.5385" stop-color="#7ed6c8"/><stop offset="0.6355" stop-color="#49cefa"/></linearGradient><linearGradient id="g79" gradientUnits="userSpaceOnUse" x1="-200" x2="1000" y1="0" y2="0"><stop offset="0.2380" stop-color="#f9e854"/><stop offset="0.3008" stop-color="#e6e566"/><stop offset="0.3686" stop-color="#d4e377"/><stop offset="0.4092" stop-color="#c2e087"/><stop offset="0.4375" stop-color="#b1dd98"/><stop offset="0.4618" stop-color="#a1dba7"/><stop offset="0.4938" stop-color="#8fd8b8"/><stop offset="0.5368" stop-color="#7ed6c8"/><stop offset="0.6329" stop-color="#49cefa"/></linearGradient><linearGradient id="g80" gradientUnits="userSpaceOnUse" x1="-200" x2="1000" y1="0" y2="0"><stop offset="0.2362" stop-color="#f9e854"/><stop offset="0.2988" stop-color="#e6e566"/><stop offset="0.3666" stop-color="#d4e377"/><stop offset="0.4075" stop-color="#c2e087"/><stop offset="0.4365" stop-color="#b1dd98"/><stop offset="0.4602" stop-color="#a1dba7"/><stop offset="0.4922" stop-color="#8fd8b8"/><stop offset="0.5350" stop-color="#7ed6c8"/><stop offset="0.6303" stop-color="#49cefa"/></linearGradient><linearGradient id="g81" gradientUnits="userSpaceOnUse" x1="-200" x2="1000" y1="0" y2="0"><stop offset="0.2350" stop-color="#f9e854"/><stop offset="0.2974" stop-color="#e6e566"/><stop offset="0.3647" stop-color="#d4e377"/><stop offset="0.4058" stop-color="#c2e087"/><stop offset="0.4352" stop-color="#b1dd98"/><stop offset="0.4590" stop-color="#a1dba7"/><stop offset="0.4907" stop-color="#8fd8b8"/><stop offset="0.5333" stop-color="#7ed6c8"/><stop offset="0.6277" stop-color="#49cefa"/></linearGradient><linearGradient id="g82" gradientUnits="userSpaceOnUse" x1="-200" x2="1000" y1="0" y2="0"><stop offset="0.2342" stop-color="#f9e854"/><stop offset="0.2965" stop-color="#e6e566"/><stop offset="0.3627" stop-color="#d4e377"/><stop offset="0.4042" stop-color="#c2e087"/><stop offset="0.4339" stop-color="#b1dd98"/><stop offset="0.4580" stop-color="#a1dba7"/><stop offset="0.4894" stop-color="#8fd8b8"/><stop offset="0.5315" stop-color="#7ed6c8"/><stop offset="0.6251" stop-color="#49cefa"/></linearGradient><linearGradient id="g83" gradientUnits="userSpaceOnUse" x1="-200" x2="1000" y1="0" y2="0"><stop offset="0.2333" stop-color="#f9e854"/><stop offset="0.2956" stop-color="#e6e566"/><stop offset="0.3608" stop-color="#d4e377"/><stop offset="0.4025" stop-color="#c2e087"/><stop offset="0.4325" stop-color="#b1dd98"/><stop offset="0.4570" stop-color="#a1dba7"/><stop offset="0.4881" stop-color="#8fd8b8"/><stop offset="0.5297" stop-color="#7ed6c8"/><stop offset="0.6225" stop-color="#49cefa"/></linearGradient><linearGradient id="g84" gradientUnits="userSpaceOnUse" x1="-200" x2="1000" y1="0" y2="0"><stop offset="0.2323" stop-color="#f9e854"/><stop offset="0.2945" stop-color="#e6e566"/><stop offset="0.3588" stop-color="#d4e377"/><stop offset="0.4008" stop-color="#c2e087"/><stop offset="0.4312" stop-color="#b1dd98"/><stop offset="0.4560" stop-color="#a1dba7"/><stop offset="0.4868" stop-color="#8fd8b8"/><stop offset="0.5276" stop-color="#7ed6c8"/><stop offset="0.6198" stop-color="#49cefa"/></linearGradient><linearGradient id="g85" gradientUnits="userSpaceOnUse" x1="-200" x2="1000" y1="0" y2="0"><stop offset="0.2313" stop-color="#f9e854"/><stop offset="0.2934" stop-color="#e6e566"/><stop offset="0.3567" stop-color="#d4e377"/><stop offset="0.3992" stop-color="#c2e087"/><stop offset="0.4298" stop-color="#b1dd98"/><stop offset="0.4549" stop-color="#a1dba7"/><stop offset="0.4854" stop-color="#8fd8b8"/><stop offset="0.5255" stop-color="#7ed6c8"/><stop offset="0.6172" stop-color="#49cefa"/></linearGradient><linearGradient id="g86" gradientUnits="userSpaceOnUse" x1="-200" x2="1000" y1="0" y2="0"><stop offset="0.2303" stop-color="#f9e854"/><stop offset="0.2923" stop-color="#e6e566"/><stop offset="0.3546" stop-color="#d4e377"/><stop offset="0.3975" stop-color="#c2e087"/><stop offset="0.4284" stop-color="#b1dd98"/><stop offset="0.4539" stop-color="#a1dba7"/><stop offset="0.4841" stop-color="#8fd8b8"/><stop offset="0.5235" stop-color="#7ed6c8"/><stop offset="0.6146" stop-color="#49cefa"/></linearGradient><linearGradient id="g87" gradientUnits="userSpaceOnUse" x1="-200" x2="1000" y1="0" y2="0"><stop offset="0.2294" stop-color="#f9e854"/><stop offset="0.2911" stop-color="#e6e566"/><stop offset="0.3525" stop-color="#d4e377"/><stop offset="0.3954" stop-color="#c2e087"/><stop offset="0.4266" stop-color="#b1dd98"/><stop offset="0.4529" stop-color="#a1dba7"/><stop offset="0.4828" stop-color="#8fd8b8"/><stop offset="0.5214" stop-color="#7ed6c8"/><stop offset="0.6120" stop-color="#49cefa"/></linearGradient><linearGradient id="g88" gradientUnits="userSpaceOnUse" x1="-200" x2="1000" y1="0" y2="0"><stop offset="0.2284" stop-color="#f9e854"/><stop offset="0.2900" stop-color="#e6e566"/><stop offset="0.3504" stop-color="#d4e377"/><stop offset="0.3930" stop-color="#c2e087"/><stop offset="0.4248" stop-color="#b1dd98"/><stop offset="0.4519" stop-color="#a1dba7"/><stop offset="0.4815" stop-color="#8fd8b8"/><stop offset="0.5194" stop-color="#7ed6c8"/><stop offset="0.6094" stop-color="#49cefa"/></linearGradient><linearGradient id="g89" gradientUnits="userSpaceOnUse" x1="-200" x2="1000" y1="0" y2="0"><stop offset="0.2274" stop-color="#f9e854"/><stop offset="0.2889" stop-color="#e6e566"/><stop offset="0.3483" stop-color="#d4e377"/><stop offset="0.3906" stop-color="#c2e087"/><stop offset="0.4230" stop-color="#b1dd98"/><stop offset="0.4500" stop-color="#a1dba7"/><stop offset="0.4799" stop-color="#8fd8b8"/><stop offset="0.5177" stop-color="#7ed6c8"/><stop offset="0.6068" stop-color="#49cefa"/></linearGradient><linearGradient id="g90" gradientUnits="userSpaceOnUse" x1="-200" x2="1000" y1="0" y2="0"><stop offset="0.2264" stop-color="#f9e854"/><stop offset="0.2878" stop-color="#e6e566"/><stop offset="0.3461" stop-color="#d4e377"/><stop offset="0.3882" stop-color="#c2e087"/><stop offset="0.4213" stop-color="#b1dd98"/><stop offset="0.4481" stop-color="#a1dba7"/><stop offset="0.4782" stop-color="#8fd8b8"/><stop offset="0.5159" stop-color="#7ed6c8"/><stop offset="0.6042" stop-color="#49cefa"/></linearGradient><linearGradient id="g91" gradientUnits="userSpaceOnUse" x1="-200" x2="1000" y1="0" y2="0"><stop offset="0.2254" stop-color="#f9e854"/><stop offset="0.2867" stop-color="#e6e566"/><stop offset="0.3441" stop-color="#d4e377"/><stop offset="0.3857" stop-color="#c2e087"/><stop offset="0.4195" stop-color="#b1dd98"/><stop offset="0.4462" stop-color="#a1dba7"/><stop offset="0.4765" stop-color="#8fd8b8"/><stop offset="0.5142" stop-color="#7ed6c8"/><stop offset="0.6015" stop-color="#49cefa"/></linearGradient><linearGradient id="g92" gradientUnits="userSpaceOnUse" x1="-200" x2="1000" y1="0" y2="0"><stop offset="0.2244" stop-color="#f9e854"/><stop offset="0.2856" stop-color="#e6e566"/><stop offset="0.3429" stop-color="#d4e377"/><stop offset="0.3832" stop-color="#c2e087"/><stop offset="0.4177" stop-color="#b1dd98"/><stop offset="0.4443" stop-color="#a1dba7"/><stop offset="0.4748" stop-color="#8fd8b8"/><stop offset="0.5124" stop-color="#7ed6c8"/><stop offset="0.5989" stop-color="#49cefa"/></linearGradient><linearGradient id="g93" gradientUnits="userSpaceOnUse" x1="-200" x2="1000" y1="0" y2="0"><stop offset="0.2237" stop-color="#f9e854"/><stop offset="0.2849" stop-color="#e6e566"/><stop offset="0.3416" stop-color="#d4e377"/><stop offset="0.3807" stop-color="#c2e087"/><stop offset="0.4159" stop-color="#b1dd98"/><stop offset="0.4424" stop-color="#a1dba7"/><stop offset="0.4730" stop-color="#8fd8b8"/><stop offset="0.5107" stop-color="#7ed6c8"/><stop offset="0.5963" stop-color="#49cefa"/></linearGradient><linearGradient id="g94" gradientUnits="userSpaceOnUse" x1="-200" x2="1000" y1="0" y2="0"><stop offset="0.2232" stop-color="#f9e854"/><stop offset="0.2842" stop-color="#e6e566"/><stop offset="0.3404" stop-color="#d4e377"/><stop offset="0.3782" stop-color="#c2e087"/><stop offset="0.4137" stop-color="#b1dd98"/><stop offset="0.4404" stop-color="#a1dba7"/><stop offset="0.4713" stop-color="#8fd8b8"/><stop offset="0.5089" stop-color="#7ed6c8"/><stop offset="0.5937" stop-color="#49cefa"/></linearGradient><linearGradient id="g95" gradientUnits="userSpaceOnUse" x1="-200" x2="1000" y1="0" y2="0"><stop offset="0.2226" stop-color="#f9e854"/><stop offset="0.2834" stop-color="#e6e566"/><stop offset="0.3391" stop-color="#d4e377"/><stop offset="0.3757" stop-color="#c2e087"/><stop offset="0.4116" stop-color="#b1dd98"/><stop offset="0.4381" stop-color="#a1dba7"/><stop offset="0.4696" stop-color="#8fd8b8"/><stop offset="0.5072" stop-color="#7ed6c8"/><stop offset="0.5911" stop-color="#49cefa"/></linearGradient><linearGradient id="g96" gradientUnits="userSpaceOnUse" x1="-200" x2="1000" y1="0" y2="0"><stop offset="0.2220" stop-color="#f9e854"/><stop offset="0.2827" stop-color="#e6e566"/><stop offset="0.3378" stop-color="#d4e377"/><stop offset="0.3736" stop-color="#c2e087"/><stop offset="0.4094" stop-color="#b1dd98"/><stop offset="0.4359" stop-color="#a1dba7"/><stop offset="0.4679" stop-color="#8fd8b8"/><stop offset="0.5052" stop-color="#7ed6c8"/><stop offset="0.5885" stop-color="#49cefa"/></linearGradient><linearGradient id="g97" gradientUnits="userSpaceOnUse" x1="-200" x2="1000" y1="0" y2="0"><stop offset="0.2214" stop-color="#f9e854"/><stop offset="0.2820" stop-color="#e6e566"/><stop offset="0.3366" stop-color="#d4e377"/><stop offset="0.3721" stop-color="#c2e087"/><stop offset="0.4072" stop-color="#b1dd98"/><stop offset="0.4336" stop-color="#a1dba7"/><stop offset="0.4662" stop-color="#8fd8b8"/><stop offset="0.5032" stop-color="#7ed6c8"/><stop offset="0.5859" stop-color="#49cefa"/></linearGradient><linearGradient id="g98" gradientUnits="userSpaceOnUse" x1="-200" x2="1000" y1="0" y2="0"><stop offset="0.2208" stop-color="#f9e854"/><stop offset="0.2813" stop-color="#e6e566"/><stop offset="0.3353" stop-color="#d4e377"/><stop offset="0.3706" stop-color="#c2e087"/><stop offset="0.4050" stop-color="#b1dd98"/><stop offset="0.4314" stop-color="#a1dba7"/><stop offset="0.4646" stop-color="#8fd8b8"/><stop offset="0.5011" stop-color="#7ed6c8"/><stop offset="0.5832" stop-color="#49cefa"/></linearGradient><linearGradient id="g99" gradientUnits="userSpaceOnUse" x1="-200" x2="1000" y1="0" y2="0"><stop offset="0.2202" stop-color="#f9e854"/><stop offset="0.2806" stop-color="#e6e566"/><stop offset="0.3341" stop-color="#d4e377"/><stop offset="0.3691" stop-color="#c2e087"/><stop offset="0.4028" stop-color="#b1dd98"/><stop offset="0.4292" stop-color="#a1dba7"/><stop offset="0.4629" stop-color="#8fd8b8"/><stop offset="0.4990" stop-color="#7ed6c8"/><stop offset="0.5806" stop-color="#49cefa"/></linearGradient><linearGradient id="g100" gradientUnits="userSpaceOnUse" x1="-200" x2="1000" y1="0" y2="0"><stop offset="0.2195" stop-color="#f9e854"/><stop offset="0.2798" stop-color="#e6e566"/><stop offset="0.3328" stop-color="#d4e377"/><stop offset="0.3675" stop-color="#c2e087"/><stop offset="0.4007" stop-color="#b1dd98"/><stop offset="0.4269" stop-color="#a1dba7"/><stop offset="0.4611" stop-color="#8fd8b8"/><stop offset="0.4969" stop-color="#7ed6c8"/><stop offset="0.5780" stop-color="#49cefa"/></linearGradient><linearGradient id="g101" gradientUnits="userSpaceOnUse" x1="-200" x2="1000" y1="0" y2="0"><stop offset="0.2188" stop-color="#f9e854"/><stop offset="0.2791" stop-color="#e6e566"/><stop offset="0.3316" stop-color="#d4e377"/><stop offset="0.3660" stop-color="#c2e087"/><stop offset="0.3986" stop-color="#b1dd98"/><stop offset="0.4246" stop-color="#a1dba7"/><stop offset="0.4587" stop-color="#8fd8b8"/><stop offset="0.4947" stop-color="#7ed6c8"/><stop offset="0.5754" stop-color="#49cefa"/></linearGradient><linearGradient id="g102" gradientUnits="userSpaceOnUse" x1="-200" x2="1000" y1="0" y2="0"><stop offset="0.2182" stop-color="#f9e854"/><stop offset="0.2783" stop-color="#e6e566"/><stop offset="0.3304" stop-color="#d4e377"/><stop offset="0.3645" stop-color="#c2e087"/><stop offset="0.3966" stop-color="#b1dd98"/><stop offset="0.4223" stop-color="#a1dba7"/><stop offset="0.4562" stop-color="#8fd8b8"/><stop offset="0.4925" stop-color="#7ed6c8"/><stop offset="0.5728" stop-color="#49cefa"/></linearGradient><linearGradient id="g103" gradientUnits="userSpaceOnUse" x1="-200" x2="1000" y1="0" y2="0"><stop offset="0.2175" stop-color="#f9e854"/><stop offset="0.2775" stop-color="#e6e566"/><stop offset="0.3293" stop-color="#d4e377"/><stop offset="0.3630" stop-color="#c2e087"/><stop offset="0.3947" stop-color="#b1dd98"/><stop offset="0.4201" stop-color="#a1dba7"/><stop offset="0.4538" stop-color="#8fd8b8"/><stop offset="0.4903" stop-color="#7ed6c8"/><stop offset="0.5702" stop-color="#49cefa"/></linearGradient><linearGradient id="g104" gradientUnits="userSpaceOnUse" x1="-200" x2="1000" y1="0" y2="0"><stop offset="0.2168" stop-color="#f9e854"/><stop offset="0.2767" stop-color="#e6e566"/><stop offset="0.3281" stop-color="#d4e377"/><stop offset="0.3615" stop-color="#c2e087"/><stop offset="0.3927" stop-color="#b1dd98"/><stop offset="0.4178" stop-color="#a1dba7"/><stop offset="0.4514" stop-color="#8fd8b8"/><stop offset="0.4881" stop-color="#7ed6c8"/><stop offset="0.5676" stop-color="#49cefa"/></linearGradient><linearGradient id="g105" gradientUnits="userSpaceOnUse" x1="-200" x2="1000" y1="0" y2="0"><stop offset="0.2161" stop-color="#f9e854"/><stop offset="0.2759" stop-color="#e6e566"/><stop offset="0.3270" stop-color="#d4e377"/><stop offset="0.3598" stop-color="#c2e087"/><stop offset="0.3907" stop-color="#b1dd98"/><stop offset="0.4156" stop-color="#a1dba7"/><stop offset="0.4490" stop-color="#8fd8b8"/><stop offset="0.4858" stop-color="#7ed6c8"/><stop offset="0.5649" stop-color="#49cefa"/></linearGradient><linearGradient id="g106" gradientUnits="userSpaceOnUse" x1="-200" x2="1000" y1="0" y2="0"><stop offset="0.2155" stop-color="#f9e854"/><stop offset="0.2751" stop-color="#e6e566"/><stop offset="0.3258" stop-color="#d4e377"/><stop offset="0.3582" stop-color="#c2e087"/><stop offset="0.3887" stop-color="#b1dd98"/><stop offset="0.4134" stop-color="#a1dba7"/><stop offset="0.4465" stop-color="#8fd8b8"/><stop offset="0.4836" stop-color="#7ed6c8"/><stop offset="0.5623" stop-color="#49cefa"/></linearGradient><linearGradient id="g107" gradientUnits="userSpaceOnUse" x1="-200" x2="1000" y1="0" y2="0"><stop offset="0.2148" stop-color="#f9e854"/><stop offset="0.2743" stop-color="#e6e566"/><stop offset="0.3247" stop-color="#d4e377"/><stop offset="0.3565" stop-color="#c2e087"/><stop offset="0.3866" stop-color="#b1dd98"/><stop offset="0.4113" stop-color="#a1dba7"/><stop offset="0.4439" stop-color="#8fd8b8"/><stop offset="0.4814" stop-color="#7ed6c8"/><stop offset="0.5597" stop-color="#49cefa"/></linearGradient><linearGradient id="g108" gradientUnits="userSpaceOnUse" x1="-200" x2="1000" y1="0" y2="0"><stop offset="0.2141" stop-color="#f9e854"/><stop offset="0.2735" stop-color="#e6e566"/><stop offset="0.3235" stop-color="#d4e377"/><stop offset="0.3548" stop-color="#c2e087"/><stop offset="0.3846" stop-color="#b1dd98"/><stop offset="0.4092" stop-color="#a1dba7"/><stop offset="0.4413" stop-color="#8fd8b8"/><stop offset="0.4791" stop-color="#7ed6c8"/><stop offset="0.5571" stop-color="#49cefa"/></linearGradient><linearGradient id="g109" gradientUnits="userSpaceOnUse" x1="-200" x2="1000" y1="0" y2="0"><stop offset="0.2135" stop-color="#f9e854"/><stop offset="0.2727" stop-color="#e6e566"/><stop offset="0.3223" stop-color="#d4e377"/><stop offset="0.3532" stop-color="#c2e087"/><stop offset="0.3825" stop-color="#b1dd98"/><stop offset="0.4071" stop-color="#a1dba7"/><stop offset="0.4387" stop-color="#8fd8b8"/><stop offset="0.4768" stop-color="#7ed6c8"/><stop offset="0.5545" stop-color="#49cefa"/></linearGradient><linearGradient id="g110" gradientUnits="userSpaceOnUse" x1="-200" x2="1000" y1="0" y2="0"><stop offset="0.2123" stop-color="#f9e854"/><stop offset="0.2714" stop-color="#e6e566"/><stop offset="0.3211" stop-color="#d4e377"/><stop offset="0.3515" stop-color="#c2e087"/><stop offset="0.3805" stop-color="#b1dd98"/><stop offset="0.4049" stop-color="#a1dba7"/><stop offset="0.4361" stop-color="#8fd8b8"/><stop offset="0.4745" stop-color="#7ed6c8"/><stop offset="0.5519" stop-color="#49cefa"/></linearGradient><linearGradient id="g111" gradientUnits="userSpaceOnUse" x1="-200" x2="1000" y1="0" y2="0"><stop offset="0.2109" stop-color="#f9e854"/><stop offset="0.2700" stop-color="#e6e566"/><stop offset="0.3199" stop-color="#d4e377"/><stop offset="0.3498" stop-color="#c2e087"/><stop offset="0.3783" stop-color="#b1dd98"/><stop offset="0.4025" stop-color="#a1dba7"/><stop offset="0.4333" stop-color="#8fd8b8"/><stop offset="0.4723" stop-color="#7ed6c8"/><stop offset="0.5493" stop-color="#49cefa"/></linearGradient><linearGradient id="g112" gradientUnits="userSpaceOnUse" x1="-200" x2="1000" y1="0" y2="0"><stop offset="0.2096" stop-color="#f9e854"/><stop offset="0.2686" stop-color="#e6e566"/><stop offset="0.3187" stop-color="#d4e377"/><stop offset="0.3482" stop-color="#c2e087"/><stop offset="0.3760" stop-color="#b1dd98"/><stop offset="0.4000" stop-color="#a1dba7"/><stop offset="0.4304" stop-color="#8fd8b8"/><stop offset="0.4696" stop-color="#7ed6c8"/><stop offset="0.5466" stop-color="#49cefa"/></linearGradient><linearGradient id="g113" gradientUnits="userSpaceOnUse" x1="-200" x2="1000" y1="0" y2="0"><stop offset="0.2083" stop-color="#f9e854"/><stop offset="0.2671" stop-color="#e6e566"/><stop offset="0.3176" stop-color="#d4e377"/><stop offset="0.3465" stop-color="#c2e087"/><stop offset="0.3736" stop-color="#b1dd98"/><stop offset="0.3975" stop-color="#a1dba7"/><stop offset="0.4275" stop-color="#8fd8b8"/><stop offset="0.4666" stop-color="#7ed6c8"/><stop offset="0.5440" stop-color="#49cefa"/></linearGradient><linearGradient id="g114" gradientUnits="userSpaceOnUse" x1="-200" x2="1000" y1="0" y2="0"><stop offset="0.2070" stop-color="#f9e854"/><stop offset="0.2657" stop-color="#e6e566"/><stop offset="0.3164" stop-color="#d4e377"/><stop offset="0.3448" stop-color="#c2e087"/><stop offset="0.3712" stop-color="#b1dd98"/><stop offset="0.3950" stop-color="#a1dba7"/><stop offset="0.4246" stop-color="#8fd8b8"/><stop offset="0.4636" stop-color="#7ed6c8"/><stop offset="0.5414" stop-color="#49cefa"/></linearGradient><linearGradient id="g115" gradientUnits="userSpaceOnUse" x1="-200" x2="1000" y1="0" y2="0"><stop offset="0.2057" stop-color="#f9e854"/><stop offset="0.2643" stop-color="#e6e566"/><stop offset="0.3152" stop-color="#d4e377"/><stop offset="0.3432" stop-color="#c2e087"/><stop offset="0.3689" stop-color="#b1dd98"/><stop offset="0.3925" stop-color="#a1dba7"/><stop offset="0.4217" stop-color="#8fd8b8"/><stop offset="0.4606" stop-color="#7ed6c8"/><stop offset="0.5388" stop-color="#49cefa"/></linearGradient><linearGradient id="g116" gradientUnits="userSpaceOnUse" x1="-200" x2="1000" y1="0" y2="0"><stop offset="0.2045" stop-color="#f9e854"/><stop offset="0.2630" stop-color="#e6e566"/><stop offset="0.3134" stop-color="#d4e377"/><stop offset="0.3415" stop-color="#c2e087"/><stop offset="0.3665" stop-color="#b1dd98"/><stop offset="0.3902" stop-color="#a1dba7"/><stop offset="0.4187" stop-color="#8fd8b8"/><stop offset="0.4575" stop-color="#7ed6c8"/><stop offset="0.5360" stop-color="#49cefa"/></linearGradient><linearGradient id="g117" gradientUnits="userSpaceOnUse" x1="-200" x2="1000" y1="0" y2="0"><stop offset="0.2034" stop-color="#f9e854"/><stop offset="0.2618" stop-color="#e6e566"/><stop offset="0.3116" stop-color="#d4e377"/><stop offset="0.3398" stop-color="#c2e087"/><stop offset="0.3646" stop-color="#b1dd98"/><stop offset="0.3878" stop-color="#a1dba7"/><stop offset="0.4158" stop-color="#8fd8b8"/><stop offset="0.4545" stop-color="#7ed6c8"/><stop offset="0.5331" stop-color="#49cefa"/></linearGradient><linearGradient id="g118" gradientUnits="userSpaceOnUse" x1="-200" x2="1000" y1="0" y2="0"><stop offset="0.2023" stop-color="#f9e854"/><stop offset="0.2606" stop-color="#e6e566"/><stop offset="0.3097" stop-color="#d4e377"/><stop offset="0.3380" stop-color="#c2e087"/><stop offset="0.3626" stop-color="#b1dd98"/><stop offset="0.3854" stop-color="#a1dba7"/><stop offset="0.4129" stop-color="#8fd8b8"/><stop offset="0.4513" stop-color="#7ed6c8"/><stop offset="0.5301" stop-color="#49cefa"/></linearGradient><linearGradient id="g119" gradientUnits="userSpaceOnUse" x1="-200" x2="1000" y1="0" y2="0"><stop offset="0.2012" stop-color="#f9e854"/><stop offset="0.2594" stop-color="#e6e566"/><stop offset="0.3078" stop-color="#d4e377"/><stop offset="0.3361" stop-color="#c2e087"/><stop offset="0.3607" stop-color="#b1dd98"/><stop offset="0.3826" stop-color="#a1dba7"/><stop offset="0.4100" stop-color="#8fd8b8"/><stop offset="0.4481" stop-color="#7ed6c8"/><stop offset="0.5272" stop-color="#49cefa"/></linearGradient><linearGradient id="g120" gradientUnits="userSpaceOnUse" x1="-200" x2="1000" y1="0" y2="0"><stop offset="0.2001" stop-color="#f9e854"/><stop offset="0.2581" stop-color="#e6e566"/><stop offset="0.3059" stop-color="#d4e377"/><stop offset="0.3341" stop-color="#c2e087"/><stop offset="0.3587" stop-color="#b1dd98"/><stop offset="0.3799" stop-color="#a1dba7"/><stop offset="0.4073" stop-color="#8fd8b8"/><stop offset="0.4449" stop-color="#7ed6c8"/><stop offset="0.5242" stop-color="#49cefa"/></linearGradient><linearGradient id="g121" gradientUnits="userSpaceOnUse" x1="-200" x2="1000" y1="0" y2="0"><stop offset="0.1990" stop-color="#f9e854"/><stop offset="0.2569" stop-color="#e6e566"/><stop offset="0.3040" stop-color="#d4e377"/><stop offset="0.3322" stop-color="#c2e087"/><stop offset="0.3568" stop-color="#b1dd98"/><stop offset="0.3771" stop-color="#a1dba7"/><stop offset="0.4046" stop-color="#8fd8b8"/><stop offset="0.4418" stop-color="#7ed6c8"/><stop offset="0.5213" stop-color="#49cefa"/></linearGradient><linearGradient id="g122" gradientUnits="userSpaceOnUse" x1="-200" x2="1000" y1="0" y2="0"><stop offset="0.1979" stop-color="#f9e854"/><stop offset="0.2557" stop-color="#e6e566"/><stop offset="0.3021" stop-color="#d4e377"/><stop offset="0.3303" stop-color="#c2e087"/><stop offset="0.3548" stop-color="#b1dd98"/><stop offset="0.3751" stop-color="#a1dba7"/><stop offset="0.4020" stop-color="#8fd8b8"/><stop offset="0.4389" stop-color="#7ed6c8"/><stop offset="0.5183" stop-color="#49cefa"/></linearGradient><linearGradient id="g123" gradientUnits="userSpaceOnUse" x1="-200" x2="1000" y1="0" y2="0"><stop offset="0.1968" stop-color="#f9e854"/><stop offset="0.2545" stop-color="#e6e566"/><stop offset="0.3001" stop-color="#d4e377"/><stop offset="0.3284" stop-color="#c2e087"/><stop offset="0.3528" stop-color="#b1dd98"/><stop offset="0.3732" stop-color="#a1dba7"/><stop offset="0.3993" stop-color="#8fd8b8"/><stop offset="0.4359" stop-color="#7ed6c8"/><stop offset="0.5153" stop-color="#49cefa"/></linearGradient><linearGradient id="g124" gradientUnits="userSpaceOnUse" x1="-200" x2="1000" y1="0" y2="0"><stop offset="0.1957" stop-color="#f9e854"/><stop offset="0.2533" stop-color="#e6e566"/><stop offset="0.2982" stop-color="#d4e377"/><stop offset="0.3265" stop-color="#c2e087"/><stop offset="0.3507" stop-color="#b1dd98"/><stop offset="0.3712" stop-color="#a1dba7"/><stop offset="0.3966" stop-color="#8fd8b8"/><stop offset="0.4330" stop-color="#7ed6c8"/><stop offset="0.5124" stop-color="#49cefa"/></linearGradient><linearGradient id="g125" gradientUnits="userSpaceOnUse" x1="-200" x2="1000" y1="0" y2="0"><stop offset="0.1946" stop-color="#f9e854"/><stop offset="0.2521" stop-color="#e6e566"/><stop offset="0.2963" stop-color="#d4e377"/><stop offset="0.3246" stop-color="#c2e087"/><stop offset="0.3487" stop-color="#b1dd98"/><stop offset="0.3688" stop-color="#a1dba7"/><stop offset="0.3940" stop-color="#8fd8b8"/><stop offset="0.4301" stop-color="#7ed6c8"/><stop offset="0.5094" stop-color="#49cefa"/></linearGradient><linearGradient id="g126" gradientUnits="userSpaceOnUse" x1="-200" x2="1000" y1="0" y2="0"><stop offset="0.1935" stop-color="#f9e854"/><stop offset="0.2509" stop-color="#e6e566"/><stop offset="0.2943" stop-color="#d4e377"/><stop offset="0.3227" stop-color="#c2e087"/><stop offset="0.3466" stop-color="#b1dd98"/><stop offset="0.3663" stop-color="#a1dba7"/><stop offset="0.3916" stop-color="#8fd8b8"/><stop offset="0.4271" stop-color="#7ed6c8"/><stop offset="0.5065" stop-color="#49cefa"/></linearGradient><linearGradient id="g127" gradientUnits="userSpaceOnUse" x1="-200" x2="1000" y1="0" y2="0"><stop offset="0.1925" stop-color="#f9e854"/><stop offset="0.2497" stop-color="#e6e566"/><stop offset="0.2926" stop-color="#d4e377"/><stop offset="0.3209" stop-color="#c2e087"/><stop offset="0.3446" stop-color="#b1dd98"/><stop offset="0.3639" stop-color="#a1dba7"/><stop offset="0.3891" stop-color="#8fd8b8"/><stop offset="0.4236" stop-color="#7ed6c8"/><stop offset="0.5035" stop-color="#49cefa"/></linearGradient><linearGradient id="g128" gradientUnits="userSpaceOnUse" x1="-200" x2="1000" y1="0" y2="0"><stop offset="0.1914" stop-color="#f9e854"/><stop offset="0.2485" stop-color="#e6e566"/><stop offset="0.2910" stop-color="#d4e377"/><stop offset="0.3191" stop-color="#c2e087"/><stop offset="0.3425" stop-color="#b1dd98"/><stop offset="0.3616" stop-color="#a1dba7"/><stop offset="0.3866" stop-color="#8fd8b8"/><stop offset="0.4201" stop-color="#7ed6c8"/><stop offset="0.5006" stop-color="#49cefa"/></linearGradient><linearGradient id="g129" gradientUnits="userSpaceOnUse" x1="-200" x2="1000" y1="0" y2="0"><stop offset="0.1903" stop-color="#f9e854"/><stop offset="0.2473" stop-color="#e6e566"/><stop offset="0.2894" stop-color="#d4e377"/><stop offset="0.3173" stop-color="#c2e087"/><stop offset="0.3403" stop-color="#b1dd98"/><stop offset="0.3593" stop-color="#a1dba7"/><stop offset="0.3841" stop-color="#8fd8b8"/><stop offset="0.4166" stop-color="#7ed6c8"/><stop offset="0.4976" stop-color="#49cefa"/></linearGradient><linearGradient id="g130" gradientUnits="userSpaceOnUse" x1="-200" x2="1000" y1="0" y2="0"><stop offset="0.1892" stop-color="#f9e854"/><stop offset="0.2461" stop-color="#e6e566"/><stop offset="0.2878" stop-color="#d4e377"/><stop offset="0.3155" stop-color="#c2e087"/><stop offset="0.3382" stop-color="#b1dd98"/><stop offset="0.3571" stop-color="#a1dba7"/><stop offset="0.3818" stop-color="#8fd8b8"/><stop offset="0.4134" stop-color="#7ed6c8"/><stop offset="0.4947" stop-color="#49cefa"/></linearGradient><linearGradient id="g131" gradientUnits="userSpaceOnUse" x1="-200" x2="1000" y1="0" y2="0"><stop offset="0.1881" stop-color="#f9e854"/><stop offset="0.2449" stop-color="#e6e566"/><stop offset="0.2862" stop-color="#d4e377"/><stop offset="0.3137" stop-color="#c2e087"/><stop offset="0.3361" stop-color="#b1dd98"/><stop offset="0.3548" stop-color="#a1dba7"/><stop offset="0.3797" stop-color="#8fd8b8"/><stop offset="0.4106" stop-color="#7ed6c8"/><stop offset="0.4917" stop-color="#49cefa"/></linearGradient><linearGradient id="g132" gradientUnits="userSpaceOnUse" x1="-200" x2="1000" y1="0" y2="0"><stop offset="0.1866" stop-color="#f9e854"/><stop offset="0.2433" stop-color="#e6e566"/><stop offset="0.2846" stop-color="#d4e377"/><stop offset="0.3120" stop-color="#c2e087"/><stop offset="0.3339" stop-color="#b1dd98"/><stop offset="0.3525" stop-color="#a1dba7"/><stop offset="0.3775" stop-color="#8fd8b8"/><stop offset="0.4078" stop-color="#7ed6c8"/><stop offset="0.4888" stop-color="#49cefa"/></linearGradient><linearGradient id="g133" gradientUnits="userSpaceOnUse" x1="-200" x2="1000" y1="0" y2="0"><stop offset="0.1852" stop-color="#f9e854"/><stop offset="0.2417" stop-color="#e6e566"/><stop offset="0.2830" stop-color="#d4e377"/><stop offset="0.3102" stop-color="#c2e087"/><stop offset="0.3318" stop-color="#b1dd98"/><stop offset="0.3502" stop-color="#a1dba7"/><stop offset="0.3753" stop-color="#8fd8b8"/><stop offset="0.4051" stop-color="#7ed6c8"/><stop offset="0.4858" stop-color="#49cefa"/></linearGradient><linearGradient id="g134" gradientUnits="userSpaceOnUse" x1="-200" x2="1000" y1="0" y2="0"><stop offset="0.1837" stop-color="#f9e854"/><stop offset="0.2401" stop-color="#e6e566"/><stop offset="0.2814" stop-color="#d4e377"/><stop offset="0.3084" stop-color="#c2e087"/><stop offset="0.3299" stop-color="#b1dd98"/><stop offset="0.3480" stop-color="#a1dba7"/><stop offset="0.3732" stop-color="#8fd8b8"/><stop offset="0.4023" stop-color="#7ed6c8"/><stop offset="0.4829" stop-color="#49cefa"/></linearGradient><linearGradient id="g135" gradientUnits="userSpaceOnUse" x1="-200" x2="1000" y1="0" y2="0"><stop offset="0.1822" stop-color="#f9e854"/><stop offset="0.2385" stop-color="#e6e566"/><stop offset="0.2798" stop-color="#d4e377"/><stop offset="0.3066" stop-color="#c2e087"/><stop offset="0.3280" stop-color="#b1dd98"/><stop offset="0.3458" stop-color="#a1dba7"/><stop offset="0.3712" stop-color="#8fd8b8"/><stop offset="0.3996" stop-color="#7ed6c8"/><stop offset="0.4799" stop-color="#49cefa"/></linearGradient><linearGradient id="g136" gradientUnits="userSpaceOnUse" x1="-200" x2="1000" y1="0" y2="0"><stop offset="0.1807" stop-color="#f9e854"/><stop offset="0.2369" stop-color="#e6e566"/><stop offset="0.2782" stop-color="#d4e377"/><stop offset="0.3049" stop-color="#c2e087"/><stop offset="0.3261" stop-color="#b1dd98"/><stop offset="0.3436" stop-color="#a1dba7"/><stop offset="0.3691" stop-color="#8fd8b8"/><stop offset="0.3973" stop-color="#7ed6c8"/><stop offset="0.4769" stop-color="#49cefa"/></linearGradient><linearGradient id="g137" gradientUnits="userSpaceOnUse" x1="-200" x2="1000" y1="0" y2="0"><stop offset="0.1792" stop-color="#f9e854"/><stop offset="0.2353" stop-color="#e6e566"/><stop offset="0.2766" stop-color="#d4e377"/><stop offset="0.3033" stop-color="#c2e087"/><stop offset="0.3242" stop-color="#b1dd98"/><stop offset="0.3418" stop-color="#a1dba7"/><stop offset="0.3670" stop-color="#8fd8b8"/><stop offset="0.3949" stop-color="#7ed6c8"/><stop offset="0.4740" stop-color="#49cefa"/></linearGradient><linearGradient id="g138" gradientUnits="userSpaceOnUse" x1="-200" x2="1000" y1="0" y2="0"><stop offset="0.1777" stop-color="#f9e854"/><stop offset="0.2337" stop-color="#e6e566"/><stop offset="0.2750" stop-color="#d4e377"/><stop offset="0.3016" stop-color="#c2e087"/><stop offset="0.3223" stop-color="#b1dd98"/><stop offset="0.3400" stop-color="#a1dba7"/><stop offset="0.3649" stop-color="#8fd8b8"/><stop offset="0.3925" stop-color="#7ed6c8"/><stop offset="0.4710" stop-color="#49cefa"/></linearGradient><linearGradient id="g139" gradientUnits="userSpaceOnUse" x1="-200" x2="1000" y1="0" y2="0"><stop offset="0.1762" stop-color="#f9e854"/><stop offset="0.2321" stop-color="#e6e566"/><stop offset="0.2733" stop-color="#d4e377"/><stop offset="0.2999" stop-color="#c2e087"/><stop offset="0.3204" stop-color="#b1dd98"/><stop offset="0.3381" stop-color="#a1dba7"/><stop offset="0.3628" stop-color="#8fd8b8"/><stop offset="0.3902" stop-color="#7ed6c8"/><stop offset="0.4681" stop-color="#49cefa"/></linearGradient><linearGradient id="g140" gradientUnits="userSpaceOnUse" x1="-200" x2="1000" y1="0" y2="0"><stop offset="0.1748" stop-color="#f9e854"/><stop offset="0.2305" stop-color="#e6e566"/><stop offset="0.2717" stop-color="#d4e377"/><stop offset="0.2983" stop-color="#c2e087"/><stop offset="0.3186" stop-color="#b1dd98"/><stop offset="0.3363" stop-color="#a1dba7"/><stop offset="0.3607" stop-color="#8fd8b8"/><stop offset="0.3879" stop-color="#7ed6c8"/><stop offset="0.4651" stop-color="#49cefa"/></linearGradient><linearGradient id="g141" gradientUnits="userSpaceOnUse" x1="-200" x2="1000" y1="0" y2="0"><stop offset="0.1733" stop-color="#f9e854"/><stop offset="0.2289" stop-color="#e6e566"/><stop offset="0.2701" stop-color="#d4e377"/><stop offset="0.2966" stop-color="#c2e087"/><stop offset="0.3169" stop-color="#b1dd98"/><stop offset="0.3345" stop-color="#a1dba7"/><stop offset="0.3585" stop-color="#8fd8b8"/><stop offset="0.3856" stop-color="#7ed6c8"/><stop offset="0.4622" stop-color="#49cefa"/></linearGradient><linearGradient id="g142" gradientUnits="userSpaceOnUse" x1="-200" x2="1000" y1="0" y2="0"><stop offset="0.1718" stop-color="#f9e854"/><stop offset="0.2273" stop-color="#e6e566"/><stop offset="0.2685" stop-color="#d4e377"/><stop offset="0.2950" stop-color="#c2e087"/><stop offset="0.3152" stop-color="#b1dd98"/><stop offset="0.3327" stop-color="#a1dba7"/><stop offset="0.3563" stop-color="#8fd8b8"/><stop offset="0.3834" stop-color="#7ed6c8"/><stop offset="0.4592" stop-color="#49cefa"/></linearGradient><linearGradient id="g143" gradientUnits="userSpaceOnUse" x1="-200" x2="1000" y1="0" y2="0"><stop offset="0.1703" stop-color="#f9e854"/><stop offset="0.2257" stop-color="#e6e566"/><stop offset="0.2668" stop-color="#d4e377"/><stop offset="0.2933" stop-color="#c2e087"/><stop offset="0.3134" stop-color="#b1dd98"/><stop offset="0.3310" stop-color="#a1dba7"/><stop offset="0.3541" stop-color="#8fd8b8"/><stop offset="0.3811" stop-color="#7ed6c8"/><stop offset="0.4563" stop-color="#49cefa"/></linearGradient><linearGradient id="g144" gradientUnits="userSpaceOnUse" x1="-200" x2="1000" y1="0" y2="0"><stop offset="0.1688" stop-color="#f9e854"/><stop offset="0.2241" stop-color="#e6e566"/><stop offset="0.2652" stop-color="#d4e377"/><stop offset="0.2916" stop-color="#c2e087"/><stop offset="0.3117" stop-color="#b1dd98"/><stop offset="0.3293" stop-color="#a1dba7"/><stop offset="0.3519" stop-color="#8fd8b8"/><stop offset="0.3788" stop-color="#7ed6c8"/><stop offset="0.4533" stop-color="#49cefa"/></linearGradient><linearGradient id="g145" gradientUnits="userSpaceOnUse" x1="-200" x2="1000" y1="0" y2="0"><stop offset="0.1674" stop-color="#f9e854"/><stop offset="0.2226" stop-color="#e6e566"/><stop offset="0.2636" stop-color="#d4e377"/><stop offset="0.2900" stop-color="#c2e087"/><stop offset="0.3100" stop-color="#b1dd98"/><stop offset="0.3275" stop-color="#a1dba7"/><stop offset="0.3497" stop-color="#8fd8b8"/><stop offset="0.3764" stop-color="#7ed6c8"/><stop offset="0.4504" stop-color="#49cefa"/></linearGradient><linearGradient id="g146" gradientUnits="userSpaceOnUse" x1="-200" x2="1000" y1="0" y2="0"><stop offset="0.1661" stop-color="#f9e854"/><stop offset="0.2212" stop-color="#e6e566"/><stop offset="0.2620" stop-color="#d4e377"/><stop offset="0.2883" stop-color="#c2e087"/><stop offset="0.3083" stop-color="#b1dd98"/><stop offset="0.3258" stop-color="#a1dba7"/><stop offset="0.3478" stop-color="#8fd8b8"/><stop offset="0.3739" stop-color="#7ed6c8"/><stop offset="0.4474" stop-color="#49cefa"/></linearGradient><linearGradient id="g147" gradientUnits="userSpaceOnUse" x1="-200" x2="1000" y1="0" y2="0"><stop offset="0.1648" stop-color="#f9e854"/><stop offset="0.2198" stop-color="#e6e566"/><stop offset="0.2604" stop-color="#d4e377"/><stop offset="0.2867" stop-color="#c2e087"/><stop offset="0.3065" stop-color="#b1dd98"/><stop offset="0.3240" stop-color="#a1dba7"/><stop offset="0.3458" stop-color="#8fd8b8"/><stop offset="0.3715" stop-color="#7ed6c8"/><stop offset="0.4445" stop-color="#49cefa"/></linearGradient>
<linearGradient id="cb" gradientUnits="userSpaceOnUse" x1="0" x2="0" y1="35.4" y2="316.3"><stop offset="0" stop-color="#49cefa"/><stop offset="1" stop-color="#f9e854"/></linearGradient>
<clipPath id="clip"><rect x="64.4" y="29.75" width="529.3" height="292.55"/></clipPath>
</defs>
<rect width="685" height="371" fill="#fff"/>
<g clip-path="url(#clip)" shape-rendering="crispEdges"><rect x="63" y="28" width="532" height="2.5" fill="url(#g0)"/><rect x="63" y="30" width="532" height="2.5" fill="url(#g1)"/><rect x="63" y="32" width="532" height="2.5" fill="url(#g2)"/><rect x="63" y="34" width="532" height="2.5" fill="url(#g3)"/><rect x="63" y="36" width="532" height="2.5" fill="url(#g4)"/><rect x="63" y="38" width="532" height="2.5" fill="url(#g5)"/><rect x="63" y="40" width="532" height="2.5" fill="url(#g6)"/><rect x="63" y="42" width="532" height="2.5" fill="url(#g7)"/><rect x="63" y="44" width="532" height="2.5" fill="url(#g8)"/><rect x="63" y="46" width="532" height="2.5" fill="url(#g9)"/><rect x="63" y="48" width="532" height="2.5" fill="url(#g10)"/><rect x="63" y="50" width="532" height="2.5" fill="url(#g11)"/><rect x="63" y="52" width="532" height="2.5" fill="url(#g12)"/><rect x="63" y="54" width="532" height="2.5" fill="url(#g13)"/><rect x="63" y="56" width="532" height="2.5" fill="url(#g14)"/><rect x="63" y="58" width="532" height="2.5" fill="url(#g15)"/><rect x="63" y="60" width="532" height="2.5" fill="url(#g16)"/><rect x="63" y="62" width="532" height="2.5" fill="url(#g17)"/><rect x="63" y="64" width="532" height="2.5" fill="url(#g18)"/><rect x="63" y="66" width="532" height="2.5" fill="url(#g19)"/><rect x="63" y="68" width="532" height="2.5" fill="url(#g20)"/><rect x="63" y="70" width="532" height="2.5" fill="url(#g21)"/><rect x="63" y="72" width="532" height="2.5" fill="url(#g22)"/><rect x="63" y="74" width="532" height="2.5" fill="url(#g23)"/><rect x="63" y="76" width="532" height="2.5" fill="url(#g24)"/><rect x="63" y="78" width="532" height="2.5" fill="url(#g25)"/><rect x="63" y="80" width="532" height="2.5" fill="url(#g26)"/><rect x="63" y="82" width="532" height="2.5" fill="url(#g27)"/><rect x="63" y="84" width="532" height="2.5" fill="url(#g28)"/><rect x="63" y="86" width="532" height="2.5" fill="url(#g29)"/><rect x="63" y="88" width="532" height="2.5" fill="url(#g30)"/><rect x="63" y="90" width="532" height="2.5" fill="url(#g31)"/><rect x="63" y="92" width="532" height="2.5" fill="url(#g32)"/><rect x="63" y="94" width="532" height="2.5" fill="url(#g33)"/><rect x="63" y="96" width="532" height="2.5" fill="url(#g34)"/><rect x="63" y="98" width="532" height="2.5" fill="url(#g35)"/><rect x="63" y="100" width="532" height="2.5" fill="url(#g36)"/><rect x="63" y="102" width="532" height="2.5" fill="url(#g37)"/><rect x="63" y="104" width="532" height="2.5" fill="url(#g38)"/><rect x="63" y="106" width="532" height="2.5" fill="url(#g39)"/><rect x="63" y="108" width="532" height="2.5" fill="url(#g40)"/><rect x="63" y="110" width="532" height="2.5" fill="url(#g41)"/><rect x="63" y="112" width="532" height="2.5" fill="url(#g42)"/><rect x="63" y="114" width="532" height="2.5" fill="url(#g43)"/><rect x="63" y="116" width="532" height="2.5" fill="url(#g44)"/><rect x="63" y="118" width="532" height="2.5" fill="url(#g45)"/><rect x="63" y="120" width="532" height="2.5" fill="url(#g46)"/><rect x="63" y="122" width="532" height="2.5" fill="url(#g47)"/><rect x="63" y="124" width="532" height="2.5" fill="url(#g48)"/><rect x="63" y="126" width="532" height="2.5" fill="url(#g49)"/><rect x="63" y="128" width="532" height="2.5" fill="url(#g50)"/><rect x="63" y="130" width="532" height="2.5" fill="url(#g51)"/><rect x="63" y="132" width="532" height="2.5" fill="url(#g52)"/><rect x="63" y="134" width="532" height="2.5" fill="url(#g53)"/><rect x="63" y="136" width="532" height="2.5" fill="url(#g54)"/><rect x="63" y="138" width="532" height="2.5" fill="url(#g55)"/><rect x="63" y="140" width="532" height="2.5" fill="url(#g56)"/><rect x="63" y="142" width="532" height="2.5" fill="url(#g57)"/><rect x="63" y="144" width="532" height="2.5" fill="url(#g58)"/><rect x="63" y="146" width="532" height="2.5" fill="url(#g59)"/><rect x="63" y="148" width="532" height="2.5" fill="url(#g60)"/><rect x="63" y="150" width="532" height="2.5" fill="url(#g61)"/><rect x="63" y="152" width="532" height="2.5" fill="url(#g62)"/><rect x="63" y="154" width="532" height="2.5" fill="url(#g63)"/><rect x="63" y="156" width="532" height="2.5" fill="url(#g64)"/><rect x="63" y="158" width="532" height="2.5" fill="url(#g65)"/><rect x="63" y="160" width="532" height="2.5" fill="url(#g66)"/><rect x="63" y="162" width="532" height="2.5" fill="url(#g67)"/><rect x="63" y="164" width="532" height="2.5" fill="url(#g68)"/><rect x="63" y="166" width="532" height="2.5" fill="url(#g69)"/><rect x="63" y="168" width="532" height="2.5" fill="url(#g70)"/><rect x="63" y="170" width="532" height="2.5" fill="url(#g71)"/><rect x="63" y="172" width="532" height="2.5" fill="url(#g72)"/><rect x="63" y="174" width="532" height="2.5" fill="url(#g73)"/><rect x="63" y="176" width="532" height="2.5" fill="url(#g74)"/><rect x="63" y="178" width="532" height="2.5" fill="url(#g75)"/><rect x="63" y="180" width="532" height="2.5" fill="url(#g76)"/><rect x="63" y="182" width="532" height="2.5" fill="url(#g77)"/><rect x="63" y="184" width="532" height="2.5" fill="url(#g78)"/><rect x="63" y="186" width="532" height="2.5" fill="url(#g79)"/><rect x="63" y="188" width="532" height="2.5" fill="url(#g80)"/><rect x="63" y="190" width="532" height="2.5" fill="url(#g81)"/><rect x="63" y="192" width="532" height="2.5" fill="url(#g82)"/><rect x="63" y="194" width="532" height="2.5" fill="url(#g83)"/><rect x="63" y="196" width="532" height="2.5" fill="url(#g84)"/><rect x="63" y="198" width="532" height="2.5" fill="url(#g85)"/><rect x="63" y="200" width="532" height="2.5" fill="url(#g86)"/><rect x="63" y="202" width="532" height="2.5" fill="url(#g87)"/><rect x="63" y="204" width="532" height="2.5" fill="url(#g88)"/><rect x="63" y="206" width="532" height="2.5" fill="url(#g89)"/><rect x="63" y="208" width="532" height="2.5" fill="url(#g90)"/><rect x="63" y="210" width="532" height="2.5" fill="url(#g91)"/><rect x="63" y="212" width="532" height="2.5" fill="url(#g92)"/><rect x="63" y="214" width="532" height="2.5" fill="url(#g93)"/><rect x="63" y="216" width="532" height="2.5" fill="url(#g94)"/><rect x="63" y="218" width="532" height="2.5" fill="url(#g95)"/><rect x="63" y="220" width="532" height="2.5" fill="url(#g96)"/><rect x="63" y="222" width="532" height="2.5" fill="url(#g97)"/><rect x="63" y="224" width="532" height="2.5" fill="url(#g98)"/><rect x="63" y="226" width="532" height="2.5" fill="url(#g99)"/><rect x="63" y="228" width="532" height="2.5" fill="url(#g100)"/><rect x="63" y="230" width="532" height="2.5" fill="url(#g101)"/><rect x="63" y="232" width="532" height="2.5" fill="url(#g102)"/><rect x="63" y="234" width="532" height="2.5" fill="url(#g103)"/><rect x="63" y="236" width="532" height="2.5" fill="url(#g104)"/><rect x="63" y="238" width="532" height="2.5" fill="url(#g105)"/><rect x="63" y="240" width="532" height="2.5" fill="url(#g106)"/><rect x="63" y="242" width="532" height="2.5" fill="url(#g107)"/><rect x="63" y="244" width="532" height="2.5" fill="url(#g108)"/><rect x="63" y="246" width="532" height="2.5" fill="url(#g109)"/><rect x="63" y="248" width="532" height="2.5" fill="url(#g110)"/><rect x="63" y="250" width="532" height="2.5" fill="url(#g111)"/><rect x="63" y="252" width="532" height="2.5" fill="url(#g112)"/><rect x="63" y="254" width="532" height="2.5" fill="url(#g113)"/><rect x="63" y="256" width="532" height="2.5" fill="url(#g114)"/><rect x="63" y="258" width="532" height="2.5" fill="url(#g115)"/><rect x="63" y="260" width="532" height="2.5" fill="url(#g116)"/><rect x="63" y="262" width="532" height="2.5" fill="url(#g117)"/><rect x="63" y="264" width="532" height="2.5" fill="url(#g118)"/><rect x="63" y="266" width="532" height="2.5" fill="url(#g119)"/><rect x="63" y="268" width="532" height="2.5" fill="url(#g120)"/><rect x="63" y="270" width="532" height="2.5" fill="url(#g121)"/><rect x="63" y="272" width="532" height="2.5" fill="url(#g122)"/><rect x="63" y="274" width="532" height="2.5" fill="url(#g123)"/><rect x="63" y="276" width="532" height="2.5" fill="url(#g124)"/><rect x="63" y="278" width="532" height="2.5" fill="url(#g125)"/><rect x="63" y="280" width="532" height="2.5" fill="url(#g126)"/><rect x="63" y="282" width="532" height="2.5" fill="url(#g127)"/><rect x="63" y="284" width="532" height="2.5" fill="url(#g128)"/><rect x="63" y="286" width="532" height="2.5" fill="url(#g129)"/><rect x="63" y="288" width="532" height="2.5" fill="url(#g130)"/><rect x="63" y="290" width="532" height="2.5" fill="url(#g131)"/><rect x="63" y="292" width="532" height="2.5" fill="url(#g132)"/><rect x="63" y="294" width="532" height="2.5" fill="url(#g133)"/><rect x="63" y="296" width="532" height="2.5" fill="url(#g134)"/><rect x="63" y="298" width="532" height="2.5" fill="url(#g135)"/><rect x="63" y="300" width="532" height="2.5" fill="url(#g136)"/><rect x="63" y="302" width="532" height="2.5" fill="url(#g137)"/><rect x="63" y="304" width="532" height="2.5" fill="url(#g138)"/><rect x="63" y="306" width="532" height="2.5" fill="url(#g139)"/><rect x="63" y="308" width="532" height="2.5" fill="url(#g140)"/><rect x="63" y="310" width="532" height="2.5" fill="url(#g141)"/><rect x="63" y="312" width="532" height="2.5" fill="url(#g142)"/><rect x="63" y="314" width="532" height="2.5" fill="url(#g143)"/><rect x="63" y="316" width="532" height="2.5" fill="url(#g144)"/><rect x="63" y="318" width="532" height="2.5" fill="url(#g145)"/><rect x="63" y="320" width="532" height="2.5" fill="url(#g146)"/><rect x="63" y="322" width="532" height="2.5" fill="url(#g147)"/></g>
<g clip-path="url(#clip)" fill="none" stroke="#3b3b3b" stroke-width="1.9" stroke-linejoin="round">
<path d="M113.7,321.7 L135.0,299.8 L152.6,281.5 L168.3,268.0 L178.0,259.3 L187.5,246.0 L198.6,230.0 L213.2,210.7 L230.0,197.5 L243.5,186.0 L255.8,171.5 L262.6,156.0 L268.5,141.5 L273.5,130.0 L278.2,120.0 L284.3,109.5 L293.0,95.5 L307.2,76.0 L328.0,52.0 L348.2,30.0"/>
<path d="M145.3,321.7 L167.8,299.1 L187.0,281.2 L207.5,263.3 L222.9,247.9 L233.1,237.7 L249.2,220.1 L263.8,210.4 L276.1,201.9 L291.4,186.6 L301.7,171.2 L309.4,153.3 L319.6,134.1 L330.0,120.0 L343.2,100.5 L362.4,80.0 L382.9,55.7 L404.6,30.0"/>
<path d="M169.2,321.7 L184.1,307.3 L198.1,295.0 L211.0,285.0 L225.8,273.0 L239.8,261.0 L255.0,250.3 L268.5,239.3 L280.0,229.6 L299.1,215.0 L314.5,200.6 L323.5,189.5 L334.0,172.3 L341.8,162.0 L346.5,156.0 L355.8,143.0 L364.2,130.0 L373.0,120.0 L385.0,107.0 L399.7,88.0 L413.6,68.5 L428.0,53.0 L447.4,30.0"/>
<path d="M190.2,321.7 L201.6,310.8 L212.1,301.2 L221.2,294.3 L236.7,283.0 L246.0,276.6 L251.9,271.4 L263.6,264.3 L271.7,258.5 L285.3,249.5 L299.3,238.5 L315.0,227.0 L329.1,216.5 L342.3,205.0 L351.7,189.5 L358.7,182.5 L366.9,170.8 L372.7,165.0 L380.5,156.0 L392.6,143.3 L402.5,135.0 L414.5,119.5 L427.0,102.7 L446.1,78.8 L466.6,53.2 L485.8,30.0"/>
<path d="M216.5,321.7 L220.0,318.7 L233.5,308.5 L250.4,295.0 L260.0,287.6 L274.8,277.7 L292.3,266.8 L308.1,257.8 L322.1,249.8 L337.6,239.8 L353.6,228.8 L365.8,216.8 L377.4,205.5 L389.1,190.7 L398.4,180.6 L405.4,174.3 L417.1,165.0 L427.6,154.3 L439.9,142.3 L450.4,131.0 L459.0,120.0 L469.1,106.9 L481.8,90.3 L489.6,81.3 L510.1,58.3 L531.8,30.0"/>
</g>
<g clip-path="url(#clip)" fill="none" stroke="#414141" stroke-width="3.8" stroke-linecap="round" stroke-linejoin="round">
<path d="M67.7,318.3 L79.2,306.3"/>
<path d="M94.0,290.9 L104.0,276.9"/>
<path d="M116.8,259.4 L127.1,247.4"/>
<path d="M136.8,226.9 L142.5,213.4"/>
<path d="M155.0,194.5 L157.6,189.8 L166.7,182.1"/>
<path d="M179.5,165.3 L189.6,152.5"/>
<path d="M199.1,134.4 L206.5,121.0"/>
<path d="M217.6,100.8 L226.7,88.3"/>
<path d="M240.1,70.5 L250.2,58.7"/>
<path d="M264.7,41.2 L275.5,30.4"/>
<path d="M248.0,321.5 L256.0,316.0"/>
<path d="M267.9,307.2 L280.7,298.2"/>
<path d="M297.8,288.0 L312.4,281.1"/>
<path d="M331.9,270.0 L346.5,262.4"/>
<path d="M365.2,252.1 L378.5,242.4"/>
<path d="M395.9,229.3 L407.8,219.8"/>
<path d="M423.8,204.5 L436.6,194.2"/>
<path d="M451.2,180.2 L463.5,169.2"/>
<path d="M479.4,154.6 L491.7,143.6"/>
<path d="M505.0,127.7 L517.0,114.6"/>
<path d="M530.6,99.5 L541.8,86.4"/>
<path d="M555.2,71.1 L566.7,58.3"/>
<path d="M579.8,41.6 L586.2,35.2"/>
</g>
<path d="M65.2,322.1 L178.1,259.3 L264.0,210.5 L334.2,172.4 L402.5,134.9 L481.7,90.1 L590.9,31.5" fill="none" stroke="#000" stroke-width="3.6" stroke-linecap="round" stroke-linejoin="round"/>
<rect x="64.4" y="29.75" width="529.3" height="292.55" fill="none" stroke="#000" stroke-width="2"/>
<path d="M111.7,322.3 v-4.9 M64.4,296.1 h4.9 M158.9,322.3 v-9.3 M64.4,270.0 h9.3 M206.2,322.3 v-4.9 M64.4,243.9 h4.9 M253.5,322.3 v-9.3 M64.4,217.8 h9.3 M300.7,322.3 v-4.9 M64.4,191.6 h4.9 M348.0,322.3 v-9.3 M64.4,165.5 h9.3 M395.2,322.3 v-4.9 M64.4,139.4 h4.9 M442.5,322.3 v-9.3 M64.4,113.2 h9.3 M489.8,322.3 v-4.9 M64.4,87.1 h4.9 M537.0,322.3 v-9.3 M64.4,61.0 h9.3 M584.3,322.3 v-4.9 M64.4,34.9 h4.9" stroke="#000" stroke-width="2" fill="none"/>
<circle cx="65.2" cy="322.1" r="4.1" fill="#ff0000" stroke="#a00000" stroke-width="0.6"/>
<circle cx="178.1" cy="259.3" r="4.1" fill="#ff0000" stroke="#a00000" stroke-width="0.6"/>
<circle cx="264.0" cy="210.5" r="4.1" fill="#ff0000" stroke="#a00000" stroke-width="0.6"/>
<circle cx="334.2" cy="172.4" r="4.1" fill="#ff0000" stroke="#a00000" stroke-width="0.6"/>
<circle cx="402.5" cy="134.9" r="4.1" fill="#ff0000" stroke="#a00000" stroke-width="0.6"/>
<circle cx="481.7" cy="90.1" r="4.1" fill="#ff0000" stroke="#a00000" stroke-width="0.6"/>
<circle cx="590.9" cy="31.5" r="4.1" fill="#ff0000" stroke="#a00000" stroke-width="0.6"/>
<rect x="600.3" y="29.7" width="17.9" height="292.35" fill="url(#cb)" stroke="#1c2226" stroke-width="1.15"/>
<path d="M618.7,35.4 H627.9 M618.7,70.5 H627.9 M618.7,105.6 H627.9 M618.7,140.7 H627.9 M618.7,175.9 H627.9 M618.7,211.0 H627.9 M618.7,246.1 H627.9 M618.7,281.2 H627.9 M618.7,316.3 H627.9" stroke="#222" stroke-width="1.25" fill="none"/>
<g font-family="'Liberation Serif', serif" fill="#000" opacity="0.995">
<text x="633" y="41.0" font-size="16">3.210</text>
<text x="633" y="76.1" font-size="16">2.861</text>
<text x="633" y="111.2" font-size="16">2.513</text>
<text x="633" y="146.3" font-size="16">2.164</text>
<text x="633" y="181.5" font-size="16">1.814</text>
<text x="633" y="216.6" font-size="16">1.466</text>
<text x="633" y="251.7" font-size="16">1.120</text>
<text x="633" y="286.8" font-size="16">0.7688</text>
<text x="633" y="321.9" font-size="16">0.4200</text>
<text x="64.9" y="345.8" font-size="16" text-anchor="middle">100</text>
<text x="53.3" y="327.1" font-size="16" text-anchor="end">100</text>
<text x="159.4" y="345.8" font-size="16" text-anchor="middle">150</text>
<text x="53.3" y="274.8" font-size="16" text-anchor="end">150</text>
<text x="254.0" y="345.8" font-size="16" text-anchor="middle">200</text>
<text x="53.3" y="222.4" font-size="16" text-anchor="end">200</text>
<text x="348.5" y="345.8" font-size="16" text-anchor="middle">250</text>
<text x="53.3" y="170.1" font-size="16" text-anchor="end">250</text>
<text x="443.0" y="345.8" font-size="16" text-anchor="middle">300</text>
<text x="53.3" y="117.7" font-size="16" text-anchor="end">300</text>
<text x="537.5" y="345.8" font-size="16" text-anchor="middle">350</text>
<text x="53.3" y="65.4" font-size="16" text-anchor="end">350</text>
<text x="253.3" y="365.8" font-size="20.2" textLength="171.5" lengthAdjust="spacingAndGlyphs">Semi-major axis [mm]</text>
<text transform="translate(19.5,262.8) rotate(-90)" font-size="20.2" textLength="172.6" lengthAdjust="spacingAndGlyphs">Semi-minor axis [mm]</text>
<text x="547.8" y="18" font-size="20.2" textLength="122" lengthAdjust="spacingAndGlyphs">Clearance [mm]</text>
</g>
</svg>
</body></html>
